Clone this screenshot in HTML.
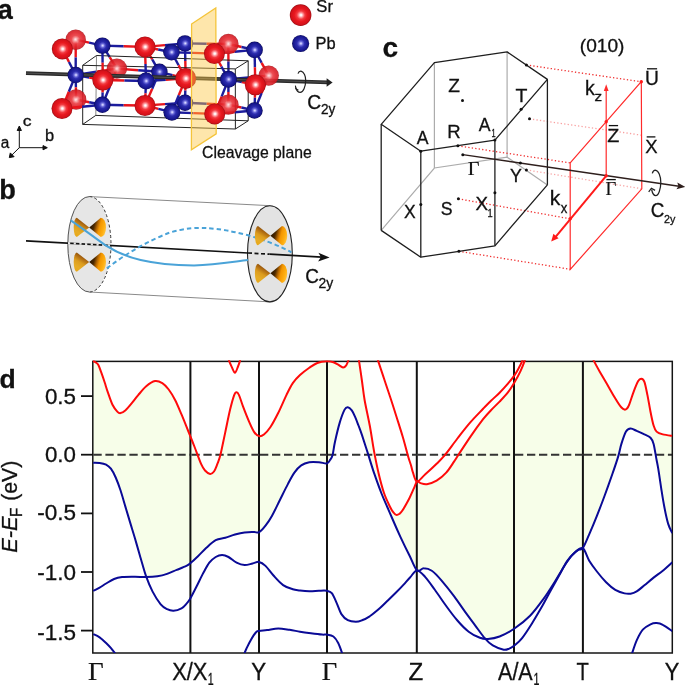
<!DOCTYPE html>
<html><head><meta charset="utf-8"><title>Figure</title>
<style>
html,body{margin:0;padding:0;background:#fff;width:685px;height:685px;overflow:hidden}
svg{display:block}
.sf{font-family:"Liberation Sans",Arial,sans-serif;fill:#111;stroke:#111;stroke-width:0.3px}
.ser{font-family:"Liberation Serif","Times New Roman",serif;fill:#111;stroke:#111;stroke-width:0.2px}
</style></head><body>
<svg width="685" height="685" viewBox="0 0 685 685">
<rect width="685" height="685" fill="#fff"/>
<defs>
<radialGradient id="gS" cx="0.5" cy="0.5" r="0.5" fx="0.52" fy="0.5">
<stop offset="0" stop-color="#ffffff"/><stop offset="0.08" stop-color="#fff0f0"/><stop offset="0.2" stop-color="#ff9ca0"/><stop offset="0.38" stop-color="#f23a40"/><stop offset="0.6" stop-color="#e8181f"/><stop offset="0.88" stop-color="#d4121a"/><stop offset="1" stop-color="#9c0c12"/></radialGradient>
<radialGradient id="gSf" cx="0.5" cy="0.5" r="0.5">
<stop offset="0" stop-color="#fff4f4"/><stop offset="0.1" stop-color="#fcd0d2"/><stop offset="0.24" stop-color="#f48488"/><stop offset="0.42" stop-color="#ea3a40"/><stop offset="0.7" stop-color="#e0222a"/><stop offset="0.9" stop-color="#d21c24"/><stop offset="1" stop-color="#a8141a"/></radialGradient>
<radialGradient id="gP" cx="0.5" cy="0.5" r="0.5" fx="0.52" fy="0.5">
<stop offset="0" stop-color="#eaeaff"/><stop offset="0.1" stop-color="#b4b4f8"/><stop offset="0.25" stop-color="#6464d4"/><stop offset="0.45" stop-color="#2c2cae"/><stop offset="0.7" stop-color="#1e1e9a"/><stop offset="0.9" stop-color="#141486"/><stop offset="1" stop-color="#08084c"/></radialGradient>
<radialGradient id="gPf" cx="0.5" cy="0.5" r="0.5">
<stop offset="0" stop-color="#a8a8f0"/><stop offset="0.15" stop-color="#6060d0"/><stop offset="0.45" stop-color="#3434b0"/><stop offset="1" stop-color="#22228a"/></radialGradient>
</defs>
<g stroke-width="2.4"><line x1="75.7" y1="39.7" x2="89.1" y2="42.7" stroke="#e8141c"/><line x1="89.1" y1="42.7" x2="102.4" y2="45.6" stroke="#1c1c9c"/><line x1="75.7" y1="39.7" x2="75.7" y2="57.4" stroke="#e8141c"/><line x1="75.7" y1="57.4" x2="75.7" y2="75.0" stroke="#1c1c9c"/><line x1="102.4" y1="45.6" x2="109.7" y2="57.1" stroke="#1c1c9c"/><line x1="109.7" y1="57.1" x2="116.9" y2="68.6" stroke="#e8141c"/><line x1="145.0" y1="46.9" x2="165.0" y2="45.1" stroke="#e8141c"/><line x1="165.0" y1="45.1" x2="185.0" y2="43.4" stroke="#1c1c9c"/><line x1="145.0" y1="46.9" x2="152.2" y2="59.3" stroke="#e8141c"/><line x1="152.2" y1="59.3" x2="159.4" y2="71.8" stroke="#1c1c9c"/><line x1="185.0" y1="43.4" x2="206.7" y2="43.7" stroke="#1c1c9c"/><line x1="206.7" y1="43.7" x2="228.4" y2="44.0" stroke="#e8141c"/><line x1="185.0" y1="43.4" x2="185.3" y2="60.9" stroke="#1c1c9c"/><line x1="185.3" y1="60.9" x2="185.7" y2="78.4" stroke="#e8141c"/><line x1="228.4" y1="44.0" x2="241.5" y2="47.0" stroke="#e8141c"/><line x1="241.5" y1="47.0" x2="254.6" y2="49.9" stroke="#1c1c9c"/><line x1="228.4" y1="44.0" x2="228.4" y2="61.6" stroke="#e8141c"/><line x1="228.4" y1="61.6" x2="228.5" y2="79.3" stroke="#1c1c9c"/><line x1="254.6" y1="49.9" x2="261.6" y2="62.8" stroke="#1c1c9c"/><line x1="261.6" y1="62.8" x2="268.7" y2="75.6" stroke="#e8141c"/><line x1="75.7" y1="75.0" x2="96.3" y2="71.8" stroke="#1c1c9c"/><line x1="96.3" y1="71.8" x2="116.9" y2="68.6" stroke="#e8141c"/><line x1="116.9" y1="68.6" x2="138.2" y2="70.2" stroke="#e8141c"/><line x1="138.2" y1="70.2" x2="159.4" y2="71.8" stroke="#1c1c9c"/><line x1="159.4" y1="71.8" x2="172.6" y2="75.1" stroke="#1c1c9c"/><line x1="172.6" y1="75.1" x2="185.7" y2="78.4" stroke="#e8141c"/><line x1="228.5" y1="79.3" x2="248.6" y2="77.4" stroke="#1c1c9c"/><line x1="248.6" y1="77.4" x2="268.7" y2="75.6" stroke="#e8141c"/><line x1="75.7" y1="75.0" x2="75.9" y2="87.2" stroke="#1c1c9c"/><line x1="75.9" y1="87.2" x2="76.1" y2="99.5" stroke="#e8141c"/><line x1="116.9" y1="68.6" x2="109.7" y2="86.7" stroke="#e8141c"/><line x1="109.7" y1="86.7" x2="102.4" y2="104.8" stroke="#1c1c9c"/><line x1="159.4" y1="71.8" x2="152.2" y2="88.7" stroke="#1c1c9c"/><line x1="152.2" y1="88.7" x2="145.0" y2="105.5" stroke="#e8141c"/><line x1="185.7" y1="78.4" x2="185.3" y2="90.6" stroke="#e8141c"/><line x1="185.3" y1="90.6" x2="185.0" y2="102.7" stroke="#1c1c9c"/><line x1="228.5" y1="79.3" x2="228.4" y2="91.9" stroke="#1c1c9c"/><line x1="228.4" y1="91.9" x2="228.4" y2="104.6" stroke="#e8141c"/><line x1="268.7" y1="75.6" x2="261.6" y2="93.0" stroke="#e8141c"/><line x1="261.6" y1="93.0" x2="254.5" y2="110.5" stroke="#1c1c9c"/><line x1="76.1" y1="99.5" x2="89.2" y2="102.2" stroke="#e8141c"/><line x1="89.2" y1="102.2" x2="102.4" y2="104.8" stroke="#1c1c9c"/><line x1="145.0" y1="105.5" x2="165.0" y2="104.1" stroke="#e8141c"/><line x1="165.0" y1="104.1" x2="185.0" y2="102.7" stroke="#1c1c9c"/><line x1="185.0" y1="102.7" x2="206.7" y2="103.7" stroke="#1c1c9c"/><line x1="206.7" y1="103.7" x2="228.4" y2="104.6" stroke="#e8141c"/><line x1="228.4" y1="104.6" x2="241.4" y2="107.5" stroke="#e8141c"/><line x1="241.4" y1="107.5" x2="254.5" y2="110.5" stroke="#1c1c9c"/></g>
<g fill="none" stroke="#222" stroke-width="1">
<line x1="96.5" y1="55.5" x2="95.8" y2="115.4" stroke="#8a8a8a"/>
<polyline points="82.7,65.3 96.5,55.5 248.2,60.8 235.3,68.9"/>
<polyline points="82.7,124.4 95.8,115.4 248.2,120.8"/>
<line x1="248.2" y1="60.8" x2="248.2" y2="120.8"/>
<polyline points="82.7,65.3 235.3,68.9 235.4,129 82.7,124.4 82.7,65.3"/>
<line x1="235.4" y1="129" x2="248.2" y2="120.8"/>
</g>
<circle cx="75.7" cy="39.7" r="10.2" fill="url(#gSf)" fill-opacity="0.9"/>
<circle cx="185.0" cy="43.4" r="8.2" fill="url(#gP)"/>
<circle cx="116.9" cy="68.6" r="10.2" fill="url(#gSf)" fill-opacity="0.9"/>
<circle cx="159.4" cy="71.8" r="8.2" fill="url(#gP)"/>
<circle cx="76.1" cy="99.5" r="10.2" fill="url(#gSf)" fill-opacity="0.9"/>
<circle cx="185.0" cy="102.7" r="8.2" fill="url(#gP)"/>
<g stroke-width="2.4"><line x1="62.3" y1="48.9" x2="69.0" y2="62.0" stroke="#e8141c"/><line x1="69.0" y1="62.0" x2="75.7" y2="75.0" stroke="#1c1c9c"/><line x1="102.4" y1="45.6" x2="123.7" y2="46.2" stroke="#1c1c9c"/><line x1="123.7" y1="46.2" x2="145.0" y2="46.9" stroke="#e8141c"/><line x1="102.4" y1="45.6" x2="102.6" y2="62.8" stroke="#1c1c9c"/><line x1="102.6" y1="62.8" x2="102.8" y2="80.0" stroke="#e8141c"/><line x1="145.0" y1="46.9" x2="158.2" y2="49.5" stroke="#e8141c"/><line x1="158.2" y1="49.5" x2="171.5" y2="52.2" stroke="#1c1c9c"/><line x1="145.0" y1="46.9" x2="145.5" y2="64.0" stroke="#e8141c"/><line x1="145.5" y1="64.0" x2="146.0" y2="81.0" stroke="#1c1c9c"/><line x1="171.5" y1="52.2" x2="192.9" y2="52.9" stroke="#1c1c9c"/><line x1="192.9" y1="52.9" x2="214.4" y2="53.6" stroke="#e8141c"/><line x1="171.5" y1="52.2" x2="178.6" y2="65.3" stroke="#1c1c9c"/><line x1="178.6" y1="65.3" x2="185.7" y2="78.4" stroke="#e8141c"/><line x1="214.4" y1="53.6" x2="234.5" y2="51.8" stroke="#e8141c"/><line x1="234.5" y1="51.8" x2="254.6" y2="49.9" stroke="#1c1c9c"/><line x1="214.4" y1="53.6" x2="221.4" y2="66.5" stroke="#e8141c"/><line x1="221.4" y1="66.5" x2="228.5" y2="79.3" stroke="#1c1c9c"/><line x1="254.6" y1="49.9" x2="254.9" y2="67.3" stroke="#1c1c9c"/><line x1="254.9" y1="67.3" x2="255.3" y2="84.8" stroke="#e8141c"/><line x1="75.7" y1="75.0" x2="89.2" y2="77.5" stroke="#1c1c9c"/><line x1="89.2" y1="77.5" x2="102.8" y2="80.0" stroke="#e8141c"/><line x1="102.8" y1="80.0" x2="124.4" y2="80.5" stroke="#e8141c"/><line x1="124.4" y1="80.5" x2="146.0" y2="81.0" stroke="#1c1c9c"/><line x1="146.0" y1="81.0" x2="165.8" y2="79.7" stroke="#1c1c9c"/><line x1="165.8" y1="79.7" x2="185.7" y2="78.4" stroke="#e8141c"/><line x1="185.7" y1="78.4" x2="207.1" y2="78.8" stroke="#e8141c"/><line x1="207.1" y1="78.8" x2="228.5" y2="79.3" stroke="#1c1c9c"/><line x1="228.5" y1="79.3" x2="241.9" y2="82.0" stroke="#1c1c9c"/><line x1="241.9" y1="82.0" x2="255.3" y2="84.8" stroke="#e8141c"/><line x1="75.7" y1="75.0" x2="68.8" y2="91.8" stroke="#1c1c9c"/><line x1="68.8" y1="91.8" x2="62.0" y2="108.5" stroke="#e8141c"/><line x1="102.8" y1="80.0" x2="102.6" y2="92.4" stroke="#e8141c"/><line x1="102.6" y1="92.4" x2="102.4" y2="104.8" stroke="#1c1c9c"/><line x1="146.0" y1="81.0" x2="145.5" y2="93.2" stroke="#1c1c9c"/><line x1="145.5" y1="93.2" x2="145.0" y2="105.5" stroke="#e8141c"/><line x1="185.7" y1="78.4" x2="178.8" y2="95.3" stroke="#e8141c"/><line x1="178.8" y1="95.3" x2="171.9" y2="112.2" stroke="#1c1c9c"/><line x1="228.5" y1="79.3" x2="221.6" y2="96.6" stroke="#1c1c9c"/><line x1="221.6" y1="96.6" x2="214.7" y2="113.9" stroke="#e8141c"/><line x1="255.3" y1="84.8" x2="254.9" y2="97.7" stroke="#e8141c"/><line x1="254.9" y1="97.7" x2="254.5" y2="110.5" stroke="#1c1c9c"/><line x1="62.0" y1="108.5" x2="82.2" y2="106.7" stroke="#e8141c"/><line x1="82.2" y1="106.7" x2="102.4" y2="104.8" stroke="#1c1c9c"/><line x1="102.4" y1="104.8" x2="123.7" y2="105.2" stroke="#1c1c9c"/><line x1="123.7" y1="105.2" x2="145.0" y2="105.5" stroke="#e8141c"/><line x1="145.0" y1="105.5" x2="158.4" y2="108.8" stroke="#e8141c"/><line x1="158.4" y1="108.8" x2="171.9" y2="112.2" stroke="#1c1c9c"/><line x1="171.9" y1="112.2" x2="193.3" y2="113.1" stroke="#1c1c9c"/><line x1="193.3" y1="113.1" x2="214.7" y2="113.9" stroke="#e8141c"/><line x1="214.7" y1="113.9" x2="234.6" y2="112.2" stroke="#e8141c"/><line x1="234.6" y1="112.2" x2="254.5" y2="110.5" stroke="#1c1c9c"/></g>
<line x1="26" y1="73.2" x2="328" y2="82.4" stroke="#2a2a2a" stroke-width="3.8"/>
<line x1="26" y1="73.1" x2="327" y2="82.3" stroke="#5c5c5c" stroke-width="0.8"/>
<path d="M326.6,78.3 L332.6,82.5 L326.6,86.7 Z" fill="#222"/>
<circle cx="62.3" cy="48.9" r="10.5" fill="url(#gS)"/>
<circle cx="102.4" cy="45.6" r="8.2" fill="url(#gP)"/>
<circle cx="145.0" cy="46.9" r="10.5" fill="url(#gS)"/>
<circle cx="171.5" cy="52.2" r="8.3" fill="url(#gP)"/>
<circle cx="75.7" cy="75.0" r="8.2" fill="url(#gP)"/>
<circle cx="102.8" cy="80.0" r="10.5" fill="url(#gS)"/>
<circle cx="146.0" cy="81.0" r="8.5" fill="url(#gP)"/>
<circle cx="185.7" cy="78.4" r="10.5" fill="url(#gS)"/>
<circle cx="62.0" cy="108.5" r="10.5" fill="url(#gS)"/>
<circle cx="102.4" cy="104.8" r="8.2" fill="url(#gP)"/>
<circle cx="145.0" cy="105.5" r="10.5" fill="url(#gS)"/>
<circle cx="171.9" cy="112.2" r="8.5" fill="url(#gP)"/>
<path d="M191.6,24 L215.8,7.9 L216.2,133.8 L191.4,149.7 Z" fill="#fcc845" fill-opacity="0.45" stroke="#f4c43a" stroke-width="1.3"/>
<circle cx="228.4" cy="44.0" r="10.2" fill="url(#gSf)" fill-opacity="0.9"/>
<circle cx="268.7" cy="75.6" r="10.2" fill="url(#gSf)" fill-opacity="0.9"/>
<circle cx="228.4" cy="104.6" r="10.2" fill="url(#gSf)" fill-opacity="0.9"/>
<circle cx="214.4" cy="53.6" r="10.5" fill="url(#gS)"/>
<circle cx="254.6" cy="49.9" r="8.3" fill="url(#gP)"/>
<circle cx="228.5" cy="79.3" r="8.5" fill="url(#gP)"/>
<circle cx="255.3" cy="84.8" r="10.5" fill="url(#gS)"/>
<circle cx="214.7" cy="113.9" r="10.5" fill="url(#gS)"/>
<circle cx="254.5" cy="110.5" r="8.2" fill="url(#gP)"/>
<path d="M298,73.6 C298.6,71.8 299.8,71.1 301,71.2 C304,71.8 305.8,76 305.7,80.5 C305.6,86.5 303.3,92.4 300.2,92.4 C298.3,92.4 296.5,90.5 295.6,87.5" fill="none" stroke="#222" stroke-width="1.2"/>
<path d="M295.4,85.6 L295.9,88.6 L298.4,90.2" fill="none" stroke="#222" stroke-width="1.1"/>
<circle cx="300.6" cy="15.1" r="10.8" fill="url(#gS)"/>
<circle cx="300.6" cy="43.5" r="8.6" fill="url(#gP)"/>
<g stroke="#111" stroke-width="1" fill="#111">
<line x1="19.3" y1="147.7" x2="19.3" y2="129.5"/><path d="M17.2,130.5 L19.3,126 L21.4,130.5 Z"/>
<line x1="19.3" y1="147.7" x2="44" y2="147.7"/><path d="M43,145.6 L47.3,147.7 L43,149.8 Z"/>
<line x1="19.3" y1="147.7" x2="11.5" y2="155.4"/><path d="M9.3,157.6 L10.3,152.9 L14.1,156.7 Z"/>
</g>
<defs>
<linearGradient id="cL" x1="0.75" y1="0" x2="0.25" y2="1">
<stop offset="0" stop-color="#4a2600"/><stop offset="0.3" stop-color="#a86410"/><stop offset="0.55" stop-color="#dc9c1e"/><stop offset="0.8" stop-color="#e6ac26"/><stop offset="1" stop-color="#e8a818"/></linearGradient>
<linearGradient id="cR" x1="0" y1="0.3" x2="1" y2="0.6">
<stop offset="0" stop-color="#1e1000"/><stop offset="0.3" stop-color="#4a2800"/><stop offset="0.48" stop-color="#b86800"/><stop offset="0.62" stop-color="#f39600"/><stop offset="0.85" stop-color="#ffae10"/><stop offset="1" stop-color="#ffc23a"/></linearGradient>
</defs>
<line x1="89.4" y1="196.6" x2="270.4" y2="205.7" stroke="#8a8a8a" stroke-width="1"/>
<line x1="89.4" y1="292" x2="270.5" y2="301.9" stroke="#8a8a8a" stroke-width="1"/>
<ellipse cx="89" cy="244.3" rx="21.6" ry="47.7" fill="#e6e6e6"/>
<path d="M89.4,196.6 A21.6,47.7 0 0 0 89.4,292" fill="none" stroke="#555" stroke-width="1"/>
<path d="M89.4,196.6 A21.6,47.7 0 0 1 89.4,292" fill="none" stroke="#333" stroke-width="1" stroke-dasharray="3 2.2"/>
<ellipse cx="269.9" cy="253.8" rx="22.4" ry="48.1" fill="#e3e3e3" stroke="#222" stroke-width="1.1"/>
<line x1="26" y1="240.9" x2="248" y2="253.0" stroke="#111" stroke-width="1.7"/>
<line x1="248" y1="253.0" x2="269.5" y2="254.2" stroke="#111" stroke-width="1.7" stroke-dasharray="4 2.5"/>
<line x1="269.5" y1="254.2" x2="322" y2="257.1" stroke="#111" stroke-width="1.7"/>
<path d="M318.4,252.7 L329.6,257.5 L318.1,261.4 L320.9,257.0 Z" fill="#111"/>
<path d="M89.2,227.4 L76.8,217.8 A3.1,9.6 0 0 0 76.8,237.0 Z" fill="url(#cL)"/><path d="M89.2,227.4 L100.8,217.8 A5.2,9.6 0 0 1 100.8,237.0 Z" fill="url(#cR)"/>
<path d="M89.2,262.1 L76.8,252.5 A3.1,9.6 0 0 0 76.8,271.7 Z" fill="url(#cL)"/><path d="M89.2,262.1 L100.8,252.5 A5.2,9.6 0 0 1 100.8,271.7 Z" fill="url(#cR)"/>
<line x1="68" y1="243.1" x2="110" y2="245.4" stroke="#e6e6e6" stroke-width="2" stroke-dasharray="2.2 3.5" stroke-dashoffset="0"/>
<path d="M70.7,220.3 C85,230 95,238 106,245.7 C125,258 150,265 194,265.4 C215,265 232,262 248,260.1" fill="none" stroke="#4aa3d8" stroke-width="2"/>
<path d="M106.9,268.4 C125,254 150,240 170,232.5 C185,228 198,227.5 207.3,228.1 C230,229.5 265,238 291.4,252.3" fill="none" stroke="#4aa3d8" stroke-width="2" stroke-dasharray="4.5 3"/>
<path d="M270.4,235.7 L258.0,226.1 A3.1,9.6 0 0 0 258.0,245.3 Z" fill="url(#cL)"/><path d="M270.4,235.7 L282.0,226.1 A5.2,9.6 0 0 1 282.0,245.3 Z" fill="url(#cR)"/>
<path d="M270.4,273.3 L258.0,263.7 A3.1,9.6 0 0 0 258.0,282.9 Z" fill="url(#cL)"/><path d="M270.4,273.3 L282.0,263.7 A5.2,9.6 0 0 1 282.0,282.9 Z" fill="url(#cR)"/>
<g stroke="#acacac" stroke-width="1.2" fill="none">
<line x1="434.4" y1="62.7" x2="434.4" y2="168.0"/>
<line x1="507.1" y1="51.9" x2="507.1" y2="157.2"/>
<polyline points="381.2,230.4 434.4,168.0 507.1,157.2 547.4,184.9"/>
</g>
<g stroke-width="1.3" fill="none" stroke-dasharray="1.3 2.2">
<line x1="526.4" y1="65" x2="641.3" y2="81.7" stroke="#f03030"/>
<line x1="529.5" y1="118.8" x2="641.5" y2="135.2" stroke="#f8a0a0"/>
<line x1="457.9" y1="145.8" x2="570.2" y2="162.9" stroke="#f03030"/>
<line x1="526.4" y1="169.9" x2="641.8" y2="188.8" stroke="#f8a8a8"/>
<line x1="458.4" y1="198.8" x2="570.2" y2="218.8" stroke="#f03030"/>
<line x1="458.9" y1="251.3" x2="570.4" y2="269.3" stroke="#f03030"/>
</g>
<g stroke="#1e1e1e" stroke-width="1.3" fill="none" stroke-linejoin="round">
<polygon points="381.2,124.3 434.4,62.7 507.1,51.9 547.4,79.4 494.9,140.1 420.8,151.2"/>
<line x1="381.2" y1="124.3" x2="381.2" y2="230.4"/>
<line x1="420.8" y1="151.2" x2="420.8" y2="257.2"/>
<line x1="494.9" y1="140.1" x2="494.9" y2="245.8"/>
<line x1="547.4" y1="79.4" x2="547.4" y2="184.9"/>
<polyline points="547.4,184.9 494.9,245.8 420.8,257.2 381.2,230.4"/>
</g>
<g stroke="#ff2a2a" stroke-width="1.2" fill="none">
<polygon points="570.2,162.9 641.3,81.7 641.8,188.8 570.2,269.5"/>
<line x1="606.2" y1="175.7" x2="606.2" y2="89"/>
</g>
<path d="M603.8,91 L606.2,84.2 L608.6,91 Z" fill="#ff2a2a"/>
<line x1="606.2" y1="175.9" x2="555" y2="237.6" stroke="#ff1a1a" stroke-width="2"/>
<path d="M551.2,241.4 L553.4,233.8 L558.6,238.2 Z" fill="#ff1a1a"/>
<line x1="462.8" y1="154.6" x2="679" y2="186.2" stroke="#2e1f1d" stroke-width="1.4"/>
<path d="M677.3,182.5 L685.2,186.9 L676.4,189.3 L678.4,186.2 Z" fill="#2e1f1d"/>
<path d="M652.3,173.4 C653,171 654.3,170.1 655.3,170.1 C658.5,170.5 660.8,176 660.8,182.5 C660.8,189 658.5,195.7 655.8,195.7 C654,195.7 652.6,194 651.6,189.5" fill="none" stroke="#222" stroke-width="1.25"/>
<path d="M648.7,191.8 L651.4,188.2 L655.1,190.4" fill="none" stroke="#222" stroke-width="1.25"/>
<circle cx="462.5" cy="100.4" r="1.5" fill="#111"/>
<circle cx="457.9" cy="145.8" r="1.5" fill="#111"/>
<circle cx="521.1" cy="109.3" r="1.5" fill="#111"/>
<circle cx="526.4" cy="65.0" r="1.5" fill="#111"/>
<circle cx="529.5" cy="118.8" r="1.5" fill="#111"/>
<circle cx="462.8" cy="154.7" r="1.5" fill="#111"/>
<circle cx="520.4" cy="162.9" r="1.5" fill="#111"/>
<circle cx="526.4" cy="169.9" r="1.5" fill="#111"/>
<circle cx="420.8" cy="204.4" r="1.5" fill="#111"/>
<circle cx="494.9" cy="192.7" r="1.5" fill="#111"/>
<circle cx="458.4" cy="198.8" r="1.5" fill="#111"/>
<circle cx="458.9" cy="251.3" r="1.5" fill="#111"/>
<circle cx="420.8" cy="151.2" r="1.5" fill="#111"/>
<circle cx="494.9" cy="140.1" r="1.5" fill="#111"/>
<circle cx="641.3" cy="81.7" r="1.7" fill="#ff1a1a"/>
<circle cx="606.2" cy="121.8" r="1.7" fill="#ff1a1a"/>
<circle cx="606.2" cy="175.8" r="1.7" fill="#ff1a1a"/>
<circle cx="570.2" cy="218.8" r="1.7" fill="#ff1a1a"/>
<defs><clipPath id="pc"><rect x="92.8" y="360.2" width="579.5" height="292.8"/></clipPath></defs>
<path d="M92.8,361.4 L93.3,361.4 L93.8,361.4 L94.3,361.6 L94.8,361.8 L95.3,362.1 L95.8,362.3 L96.3,362.6 L96.8,363.0 L97.3,363.5 L97.8,364.1 L98.3,365.0 L98.8,366.0 L99.3,367.2 L99.8,368.5 L100.3,369.8 L100.8,371.2 L101.3,372.6 L101.8,373.9 L102.3,375.4 L102.8,376.8 L103.3,378.3 L103.8,379.8 L104.3,381.3 L104.8,382.8 L105.3,384.4 L105.8,386.0 L106.3,387.6 L106.8,389.2 L107.3,390.7 L107.8,392.2 L108.3,393.6 L108.8,395.1 L109.3,396.5 L109.8,398.0 L110.3,399.4 L110.8,400.7 L111.3,402.0 L111.8,403.2 L112.3,404.4 L112.8,405.4 L113.3,406.3 L113.8,407.2 L114.3,407.9 L114.8,408.6 L115.3,409.3 L115.8,409.9 L116.3,410.5 L116.8,411.1 L117.3,411.6 L117.8,412.1 L118.3,412.5 L118.8,412.9 L119.3,413.1 L119.8,413.2 L120.3,413.1 L120.8,413.0 L121.3,412.9 L121.8,412.7 L122.3,412.5 L122.8,412.2 L123.3,411.9 L123.8,411.6 L124.3,411.2 L124.8,410.8 L125.3,410.4 L125.8,409.9 L126.3,409.5 L126.8,408.9 L127.3,408.4 L127.8,407.9 L128.3,407.3 L128.8,406.7 L129.3,406.2 L129.8,405.6 L130.3,405.0 L130.8,404.4 L131.3,403.8 L131.8,403.2 L132.3,402.6 L132.8,402.0 L133.3,401.3 L133.8,400.7 L134.3,400.0 L134.8,399.4 L135.3,398.7 L135.8,398.1 L136.3,397.4 L136.8,396.8 L137.3,396.2 L137.8,395.6 L138.3,395.0 L138.8,394.4 L139.3,393.8 L139.8,393.2 L140.3,392.6 L140.8,392.0 L141.3,391.4 L141.8,390.8 L142.3,390.2 L142.8,389.7 L143.3,389.1 L143.8,388.6 L144.3,388.1 L144.8,387.6 L145.3,387.1 L145.8,386.7 L146.3,386.2 L146.8,385.8 L147.3,385.4 L147.8,385.0 L148.3,384.6 L148.8,384.2 L149.3,383.9 L149.8,383.5 L150.3,383.2 L150.8,382.9 L151.3,382.6 L151.8,382.3 L152.3,382.0 L152.8,381.8 L153.3,381.5 L153.8,381.3 L154.3,381.2 L154.8,381.1 L155.3,381.0 L155.8,380.9 L156.3,380.9 L156.8,380.9 L157.3,381.0 L157.8,381.0 L158.3,381.2 L158.8,381.3 L159.3,381.5 L159.8,381.7 L160.3,382.0 L160.8,382.2 L161.3,382.5 L161.8,382.8 L162.3,383.1 L162.8,383.4 L163.3,383.8 L163.8,384.2 L164.3,384.6 L164.8,385.0 L165.3,385.5 L165.8,386.0 L166.3,386.6 L166.8,387.1 L167.3,387.7 L167.8,388.3 L168.3,389.0 L168.8,389.6 L169.3,390.3 L169.8,391.0 L170.3,391.7 L170.8,392.5 L171.3,393.3 L171.8,394.1 L172.3,394.9 L172.8,395.8 L173.3,396.7 L173.8,397.6 L174.3,398.5 L174.8,399.4 L175.3,400.4 L175.8,401.4 L176.3,402.4 L176.8,403.5 L177.3,404.6 L177.8,405.7 L178.3,406.9 L178.8,408.0 L179.3,409.2 L179.8,410.4 L180.3,411.6 L180.8,412.7 L181.3,413.9 L181.8,415.1 L182.3,416.3 L182.8,417.5 L183.3,418.8 L183.8,420.0 L184.3,421.2 L184.8,422.5 L185.3,423.7 L185.8,425.0 L186.3,426.2 L186.8,427.5 L187.3,428.8 L187.8,430.0 L188.3,431.2 L188.8,432.5 L189.3,433.7 L189.8,435.0 L190.3,436.2 L190.8,437.5 L191.3,438.7 L191.8,440.0 L192.3,441.2 L192.8,442.4 L193.3,443.7 L193.8,445.0 L194.3,446.2 L194.8,447.5 L195.3,448.9 L195.8,450.2 L196.3,451.5 L196.8,452.9 L197.3,454.2 L197.8,455.5 L198.3,456.9 L198.8,458.2 L199.3,459.5 L199.8,460.8 L200.3,462.0 L200.8,463.3 L201.3,464.4 L201.8,465.5 L202.3,466.6 L202.8,467.5 L203.3,468.4 L203.8,469.1 L204.3,469.7 L204.8,470.3 L205.3,470.8 L205.8,471.3 L206.3,471.8 L206.8,472.2 L207.3,472.6 L207.8,473.0 L208.3,473.3 L208.8,473.6 L209.3,473.8 L209.8,473.9 L210.3,474.0 L210.8,474.0 L211.3,473.9 L211.8,473.6 L212.3,473.3 L212.8,472.9 L213.3,472.4 L213.8,471.8 L214.3,471.1 L214.8,470.2 L215.3,469.2 L215.8,468.0 L216.3,466.8 L216.8,465.5 L217.3,464.2 L217.8,462.9 L218.3,461.7 L218.8,460.4 L219.3,458.9 L219.8,457.2 L220.3,455.4 L220.8,453.4 L221.3,451.2 L221.8,448.9 L222.3,446.5 L222.8,444.2 L223.3,441.7 L223.8,439.3 L224.3,436.9 L224.8,434.5 L225.3,432.1 L225.8,429.7 L226.3,427.3 L226.8,424.9 L227.3,422.5 L227.8,420.1 L228.3,417.7 L228.8,415.4 L229.3,413.1 L229.8,410.9 L230.3,408.8 L230.8,406.8 L231.3,404.8 L231.8,402.9 L232.3,401.1 L232.8,399.4 L233.3,397.8 L233.8,396.2 L234.3,394.8 L234.8,393.7 L235.3,392.8 L235.8,392.4 L236.3,392.3 L236.8,392.3 L237.3,392.5 L237.8,392.9 L238.3,393.7 L238.8,394.7 L239.3,395.8 L239.8,397.1 L240.3,398.6 L240.8,400.1 L241.3,401.6 L241.8,403.1 L242.3,404.5 L242.8,405.9 L243.3,407.2 L243.8,408.5 L244.3,409.8 L244.8,411.1 L245.3,412.3 L245.8,413.6 L246.3,414.9 L246.8,416.1 L247.3,417.4 L247.8,418.6 L248.3,419.8 L248.8,421.0 L249.3,422.2 L249.8,423.3 L250.3,424.5 L250.8,425.6 L251.3,426.7 L251.8,427.8 L252.3,428.8 L252.8,429.8 L253.3,430.7 L253.8,431.5 L254.3,432.2 L254.8,432.9 L255.3,433.5 L255.8,434.0 L256.3,434.5 L256.8,434.9 L257.3,435.3 L257.8,435.6 L258.3,435.8 L258.8,436.0 L259.3,436.1 L259.8,436.2 L260.3,436.2 L260.8,436.2 L261.3,436.0 L261.8,435.8 L262.3,435.6 L262.8,435.3 L263.3,434.9 L263.8,434.6 L264.3,434.2 L264.8,433.8 L265.3,433.3 L265.8,432.8 L266.3,432.3 L266.8,431.8 L267.3,431.3 L267.8,430.7 L268.3,430.1 L268.8,429.4 L269.3,428.7 L269.8,428.0 L270.3,427.3 L270.8,426.5 L271.3,425.7 L271.8,424.9 L272.3,424.1 L272.8,423.2 L273.3,422.3 L273.8,421.4 L274.3,420.5 L274.8,419.6 L275.3,418.6 L275.8,417.7 L276.3,416.7 L276.8,415.8 L277.3,414.8 L277.8,413.8 L278.3,412.8 L278.8,411.8 L279.3,410.7 L279.8,409.7 L280.3,408.6 L280.8,407.5 L281.3,406.4 L281.8,405.3 L282.3,404.1 L282.8,403.0 L283.3,401.9 L283.8,400.7 L284.3,399.6 L284.8,398.5 L285.3,397.4 L285.8,396.4 L286.3,395.3 L286.8,394.3 L287.3,393.3 L287.8,392.2 L288.3,391.2 L288.8,390.2 L289.3,389.2 L289.8,388.2 L290.3,387.3 L290.8,386.4 L291.3,385.5 L291.8,384.7 L292.3,383.9 L292.8,383.1 L293.3,382.4 L293.8,381.7 L294.3,381.1 L294.8,380.4 L295.3,379.8 L295.8,379.3 L296.3,378.7 L296.8,378.2 L297.3,377.7 L297.8,377.2 L298.3,376.7 L298.8,376.2 L299.3,375.8 L299.8,375.3 L300.3,374.8 L300.8,374.4 L301.3,373.9 L301.8,373.5 L302.3,373.1 L302.8,372.7 L303.3,372.3 L303.8,371.9 L304.3,371.5 L304.8,371.1 L305.3,370.7 L305.8,370.3 L306.3,370.0 L306.8,369.6 L307.3,369.2 L307.8,368.9 L308.3,368.5 L308.8,368.2 L309.3,367.8 L309.8,367.4 L310.3,367.1 L310.8,366.7 L311.3,366.4 L311.8,366.0 L312.3,365.7 L312.8,365.4 L313.3,365.0 L313.8,364.7 L314.3,364.4 L314.8,364.1 L315.3,363.9 L315.8,363.6 L316.3,363.4 L316.8,363.2 L317.3,363.0 L317.8,362.8 L318.3,362.7 L318.8,362.5 L319.3,362.4 L319.8,362.3 L320.3,362.2 L320.8,362.0 L321.3,361.9 L321.8,361.9 L322.3,361.8 L322.8,361.7 L323.3,361.6 L323.8,361.6 L324.3,361.5 L324.8,361.5 L325.3,361.4 L325.8,361.4 L326.3,361.4 L326.8,361.4 L327.3,361.4 L327.8,361.4 L328.3,361.4 L328.8,361.4 L329.3,361.4 L329.8,361.4 L330.3,361.5 L330.8,361.6 L331.3,361.7 L331.8,361.8 L332.3,361.9 L332.8,362.0 L333.3,362.2 L333.8,362.3 L334.3,362.5 L334.8,362.7 L335.3,363.0 L335.8,363.2 L336.3,363.5 L336.8,363.8 L337.3,364.1 L337.8,364.4 L338.3,364.7 L338.8,365.0 L339.3,365.3 L339.8,365.7 L340.3,366.0 L340.8,366.4 L341.3,366.7 L341.8,367.0 L342.3,367.3 L342.8,367.5 L343.3,367.5 L343.8,367.4 L344.3,367.2 L344.8,366.9 L345.3,366.5 L345.8,365.9 L346.3,365.3 L346.8,364.4 L347.3,363.3 L347.8,362.0 L348.3,361.4 L348.8,361.4 L349.3,361.4 L349.8,361.4 L350.3,361.4 L350.8,361.4 L351.3,361.4 L351.8,361.4 L352.3,361.4 L352.8,361.4 L353.3,361.4 L353.8,361.4 L354.3,361.4 L354.8,361.4 L355.3,361.4 L355.8,361.4 L356.3,361.4 L356.8,361.4 L357.3,361.4 L357.8,361.4 L358.3,361.4 L358.8,361.4 L359.3,362.8 L359.8,366.1 L360.3,369.5 L360.8,372.9 L361.3,376.3 L361.8,379.8 L362.3,383.5 L362.8,387.4 L363.3,391.4 L363.8,395.0 L364.3,398.2 L364.8,401.1 L365.3,403.8 L365.8,406.3 L366.3,408.7 L366.8,411.1 L367.3,413.5 L367.8,415.8 L368.3,418.2 L368.8,420.7 L369.3,423.2 L369.8,425.8 L370.3,428.5 L370.8,431.4 L371.3,434.4 L371.8,437.5 L372.3,440.7 L372.8,443.8 L373.3,446.9 L373.8,449.8 L374.3,452.6 L374.8,455.3 L375.3,457.9 L375.8,460.4 L376.3,462.9 L376.8,465.3 L377.3,467.6 L377.8,469.8 L378.3,472.0 L378.8,474.1 L379.3,476.2 L379.8,478.2 L380.3,480.2 L380.8,482.1 L381.3,484.0 L381.8,485.8 L382.3,487.6 L382.8,489.3 L383.3,490.9 L383.8,492.4 L384.3,493.8 L384.8,495.2 L385.3,496.5 L385.8,497.7 L386.3,498.9 L386.8,500.0 L387.3,501.1 L387.8,502.2 L388.3,503.3 L388.8,504.3 L389.3,505.3 L389.8,506.4 L390.3,507.4 L390.8,508.4 L391.3,509.4 L391.8,510.2 L392.3,511.0 L392.8,511.7 L393.3,512.3 L393.8,512.9 L394.3,513.5 L394.8,514.0 L395.3,514.4 L395.8,514.7 L396.3,514.9 L396.8,515.0 L397.3,514.9 L397.8,514.8 L398.3,514.6 L398.8,514.3 L399.3,513.9 L399.8,513.6 L400.3,513.2 L400.8,512.7 L401.3,512.1 L401.8,511.4 L402.3,510.7 L402.8,509.9 L403.3,509.1 L403.8,508.2 L404.3,507.4 L404.8,506.5 L405.3,505.7 L405.8,504.8 L406.3,503.9 L406.8,503.0 L407.3,502.1 L407.8,501.2 L408.3,500.3 L408.8,499.3 L409.3,498.4 L409.8,497.4 L410.3,496.4 L410.8,495.3 L411.3,494.3 L411.8,493.1 L412.3,492.0 L412.8,490.9 L413.3,489.7 L413.8,488.6 L414.3,487.4 L414.8,486.2 L415.3,484.8 L415.8,483.5 L416.3,482.4 L416.8,481.7 L417.3,481.5 L417.8,481.4 L418.3,481.6 L418.8,482.1 L419.3,482.5 L419.8,482.8 L420.3,483.0 L420.8,483.2 L421.3,483.3 L421.8,483.5 L422.3,483.7 L422.8,483.8 L423.3,484.0 L423.8,484.1 L424.3,484.2 L424.8,484.2 L425.3,484.3 L425.8,484.3 L426.3,484.3 L426.8,484.2 L427.3,484.1 L427.8,484.0 L428.3,483.9 L428.8,483.8 L429.3,483.7 L429.8,483.6 L430.3,483.4 L430.8,483.3 L431.3,483.1 L431.8,482.9 L432.3,482.7 L432.8,482.6 L433.3,482.3 L433.8,482.1 L434.3,481.9 L434.8,481.7 L435.3,481.4 L435.8,481.2 L436.3,480.9 L436.8,480.6 L437.3,480.3 L437.8,479.9 L438.3,479.6 L438.8,479.3 L439.3,478.9 L439.8,478.5 L440.3,478.2 L440.8,477.8 L441.3,477.4 L441.8,476.9 L442.3,476.5 L442.8,476.1 L443.3,475.6 L443.8,475.1 L444.3,474.7 L444.8,474.2 L445.3,473.7 L445.8,473.1 L446.3,472.6 L446.8,472.0 L447.3,471.4 L447.8,470.8 L448.3,470.1 L448.8,469.4 L449.3,468.8 L449.8,468.0 L450.3,467.3 L450.8,466.6 L451.3,465.8 L451.8,465.1 L452.3,464.3 L452.8,463.5 L453.3,462.8 L453.8,462.0 L454.3,461.3 L454.8,460.5 L455.3,459.8 L455.8,459.0 L456.3,458.1 L456.8,457.3 L457.3,456.5 L457.8,455.8 L458.3,455.0 L458.8,454.2 L459.3,453.5 L459.8,452.7 L460.3,451.9 L460.8,451.2 L461.3,450.4 L461.8,449.6 L462.3,448.9 L462.8,448.1 L463.3,447.4 L463.8,446.6 L464.3,445.8 L464.8,445.1 L465.3,444.3 L465.8,443.6 L466.3,442.8 L466.8,442.1 L467.3,441.3 L467.8,440.6 L468.3,439.8 L468.8,439.1 L469.3,438.4 L469.8,437.6 L470.3,436.9 L470.8,436.2 L471.3,435.5 L471.8,434.7 L472.3,434.0 L472.8,433.3 L473.3,432.6 L473.8,431.9 L474.3,431.2 L474.8,430.5 L475.3,429.8 L475.8,429.1 L476.3,428.4 L476.8,427.7 L477.3,427.0 L477.8,426.3 L478.3,425.6 L478.8,424.9 L479.3,424.3 L479.8,423.6 L480.3,422.9 L480.8,422.2 L481.3,421.6 L481.8,420.9 L482.3,420.2 L482.8,419.6 L483.3,418.9 L483.8,418.3 L484.3,417.7 L484.8,417.1 L485.3,416.5 L485.8,415.9 L486.3,415.3 L486.8,414.7 L487.3,414.1 L487.8,413.6 L488.3,413.1 L488.8,412.5 L489.3,412.0 L489.8,411.5 L490.3,410.9 L490.8,410.4 L491.3,409.9 L491.8,409.4 L492.3,408.8 L492.8,408.3 L493.3,407.8 L493.8,407.3 L494.3,406.9 L494.8,406.4 L495.3,405.9 L495.8,405.4 L496.3,404.9 L496.8,404.4 L497.3,403.9 L497.8,403.4 L498.3,402.9 L498.8,402.4 L499.3,401.9 L499.8,401.4 L500.3,400.9 L500.8,400.3 L501.3,399.8 L501.8,399.3 L502.3,398.8 L502.8,398.3 L503.3,397.7 L503.8,397.2 L504.3,396.7 L504.8,396.1 L505.3,395.6 L505.8,395.0 L506.3,394.4 L506.8,393.8 L507.3,393.2 L507.8,392.6 L508.3,391.9 L508.8,391.3 L509.3,390.6 L509.8,389.9 L510.3,389.1 L510.8,388.4 L511.3,387.6 L511.8,386.9 L512.3,386.1 L512.8,385.3 L513.3,384.4 L513.8,383.6 L514.3,382.8 L514.8,381.9 L515.3,381.0 L515.8,380.1 L516.3,379.2 L516.8,378.3 L517.3,377.4 L517.8,376.4 L518.3,375.5 L518.8,374.5 L519.3,373.5 L519.8,372.5 L520.3,371.5 L520.8,370.5 L521.3,369.4 L521.8,368.2 L522.3,367.0 L522.8,365.8 L523.3,364.5 L523.8,363.2 L524.3,361.9 L524.8,361.4 L525.3,361.4 L525.8,361.4 L526.3,361.4 L526.8,361.4 L527.3,361.4 L527.8,361.4 L528.3,361.4 L528.8,361.4 L529.3,361.4 L529.8,361.4 L530.3,361.4 L530.8,361.4 L531.3,361.4 L531.8,361.4 L532.3,361.4 L532.8,361.4 L533.3,361.4 L533.8,361.4 L534.3,361.4 L534.8,361.4 L535.3,361.4 L535.8,361.4 L536.3,361.4 L536.8,361.4 L537.3,361.4 L537.8,361.4 L538.3,361.4 L538.8,361.4 L539.3,361.4 L539.8,361.4 L540.3,361.4 L540.8,361.4 L541.3,361.4 L541.8,361.4 L542.3,361.4 L542.8,361.4 L543.3,361.4 L543.8,361.4 L544.3,361.4 L544.8,361.4 L545.3,361.4 L545.8,361.4 L546.3,361.4 L546.8,361.4 L547.3,361.4 L547.8,361.4 L548.3,361.4 L548.8,361.4 L549.3,361.4 L549.8,361.4 L550.3,361.4 L550.8,361.4 L551.3,361.4 L551.8,361.4 L552.3,361.4 L552.8,361.4 L553.3,361.4 L553.8,361.4 L554.3,361.4 L554.8,361.4 L555.3,361.4 L555.8,361.4 L556.3,361.4 L556.8,361.4 L557.3,361.4 L557.8,361.4 L558.3,361.4 L558.8,361.4 L559.3,361.4 L559.8,361.4 L560.3,361.4 L560.8,361.4 L561.3,361.4 L561.8,361.4 L562.3,361.4 L562.8,361.4 L563.3,361.4 L563.8,361.4 L564.3,361.4 L564.8,361.4 L565.3,361.4 L565.8,361.4 L566.3,361.4 L566.8,361.4 L567.3,361.4 L567.8,361.4 L568.3,361.4 L568.8,361.4 L569.3,361.4 L569.8,361.4 L570.3,361.4 L570.8,361.4 L571.3,361.4 L571.8,361.4 L572.3,361.4 L572.8,361.4 L573.3,361.4 L573.8,361.4 L574.3,361.4 L574.8,361.4 L575.3,361.4 L575.8,361.4 L576.3,361.4 L576.8,361.4 L577.3,361.4 L577.8,361.4 L578.3,361.4 L578.8,361.4 L579.3,361.4 L579.8,361.4 L580.3,361.4 L580.8,361.4 L581.3,361.4 L581.8,361.4 L582.3,361.4 L582.8,361.4 L583.3,361.4 L583.8,361.4 L584.3,361.4 L584.8,361.4 L585.3,361.4 L585.8,361.4 L586.3,361.4 L586.8,361.4 L587.3,361.4 L587.8,361.4 L588.3,361.4 L588.8,361.4 L589.3,361.4 L589.8,361.4 L590.3,361.4 L590.8,361.4 L591.3,361.4 L591.8,361.4 L592.3,361.4 L592.8,361.4 L593.3,361.4 L593.8,361.4 L594.3,361.8 L594.8,362.7 L595.3,363.6 L595.8,364.5 L596.3,365.4 L596.8,366.3 L597.3,367.3 L597.8,368.2 L598.3,369.1 L598.8,369.9 L599.3,370.8 L599.8,371.7 L600.3,372.6 L600.8,373.5 L601.3,374.3 L601.8,375.2 L602.3,376.1 L602.8,376.9 L603.3,377.8 L603.8,378.6 L604.3,379.5 L604.8,380.4 L605.3,381.2 L605.8,382.1 L606.3,382.9 L606.8,383.8 L607.3,384.7 L607.8,385.6 L608.3,386.5 L608.8,387.4 L609.3,388.2 L609.8,389.1 L610.3,390.0 L610.8,390.9 L611.3,391.8 L611.8,392.6 L612.3,393.5 L612.8,394.3 L613.3,395.2 L613.8,396.0 L614.3,396.8 L614.8,397.7 L615.3,398.5 L615.8,399.3 L616.3,400.1 L616.8,400.9 L617.3,401.7 L617.8,402.5 L618.3,403.3 L618.8,404.1 L619.3,404.8 L619.8,405.5 L620.3,406.2 L620.8,406.8 L621.3,407.3 L621.8,407.8 L622.3,408.3 L622.8,408.7 L623.3,409.1 L623.8,409.4 L624.3,409.6 L624.8,409.6 L625.3,409.6 L625.8,409.4 L626.3,409.1 L626.8,408.7 L627.3,408.2 L627.8,407.6 L628.3,406.7 L628.8,405.6 L629.3,404.3 L629.8,403.0 L630.3,401.5 L630.8,400.0 L631.3,398.5 L631.8,397.0 L632.3,395.5 L632.8,394.0 L633.3,392.6 L633.8,391.3 L634.3,390.0 L634.8,388.7 L635.3,387.5 L635.8,386.2 L636.3,385.0 L636.8,383.9 L637.3,382.8 L637.8,381.8 L638.3,380.9 L638.8,380.2 L639.3,379.6 L639.8,379.1 L640.3,378.9 L640.8,378.8 L641.3,378.8 L641.8,378.9 L642.3,379.0 L642.8,379.3 L643.3,379.8 L643.8,380.5 L644.3,381.6 L644.8,383.0 L645.3,384.9 L645.8,387.0 L646.3,389.4 L646.8,391.9 L647.3,394.4 L647.8,396.9 L648.3,399.6 L648.8,402.4 L649.3,405.3 L649.8,408.0 L650.3,410.7 L650.8,413.2 L651.3,415.7 L651.8,418.1 L652.3,420.4 L652.8,422.5 L653.3,424.5 L653.8,426.1 L654.3,427.7 L654.8,429.0 L655.3,430.0 L655.8,430.7 L656.3,431.3 L656.8,431.8 L657.3,432.2 L657.8,432.5 L658.3,432.8 L658.8,433.1 L659.3,433.3 L659.8,433.5 L660.3,433.7 L660.8,433.8 L661.3,434.0 L661.8,434.1 L662.3,434.3 L662.8,434.4 L663.3,434.5 L663.8,434.6 L664.3,434.7 L664.8,434.8 L665.3,434.9 L665.8,435.0 L666.3,435.1 L666.8,435.1 L667.3,435.2 L667.8,435.3 L668.3,435.3 L668.8,435.4 L669.3,435.4 L669.8,435.5 L670.3,435.6 L670.8,435.6 L671.3,435.7 L671.8,435.7 L672.3,435.8 L672.3,533.2 L671.8,532.2 L671.3,531.2 L670.8,530.2 L670.3,529.2 L669.8,528.1 L669.3,526.9 L668.8,525.7 L668.3,524.2 L667.8,522.6 L667.3,520.7 L666.8,518.7 L666.3,516.5 L665.8,514.2 L665.3,511.7 L664.8,509.2 L664.3,506.7 L663.8,504.1 L663.3,501.2 L662.8,498.3 L662.3,495.2 L661.8,492.1 L661.3,488.9 L660.8,485.7 L660.3,482.4 L659.8,479.0 L659.3,475.6 L658.8,472.3 L658.3,469.0 L657.8,466.0 L657.3,463.5 L656.8,461.0 L656.3,458.3 L655.8,455.4 L655.3,452.4 L654.8,449.6 L654.3,447.0 L653.8,444.7 L653.3,442.9 L652.8,441.3 L652.3,440.2 L651.8,439.3 L651.3,438.7 L650.8,438.1 L650.3,437.6 L649.8,437.2 L649.3,436.8 L648.8,436.5 L648.3,436.2 L647.8,436.0 L647.3,435.7 L646.8,435.5 L646.3,435.3 L645.8,435.1 L645.3,434.8 L644.8,434.6 L644.3,434.4 L643.8,434.1 L643.3,433.9 L642.8,433.6 L642.3,433.4 L641.8,433.2 L641.3,432.9 L640.8,432.7 L640.3,432.5 L639.8,432.2 L639.3,432.0 L638.8,431.8 L638.3,431.6 L637.8,431.4 L637.3,431.2 L636.8,430.9 L636.3,430.7 L635.8,430.5 L635.3,430.3 L634.8,430.0 L634.3,429.8 L633.8,429.5 L633.3,429.3 L632.8,429.1 L632.3,428.9 L631.8,428.7 L631.3,428.6 L630.8,428.6 L630.3,428.6 L629.8,428.7 L629.3,428.8 L628.8,428.9 L628.3,429.1 L627.8,429.5 L627.3,429.9 L626.8,430.4 L626.3,431.1 L625.8,432.0 L625.3,432.9 L624.8,434.1 L624.3,435.3 L623.8,436.6 L623.3,438.1 L622.8,439.5 L622.3,441.1 L621.8,442.6 L621.3,444.2 L620.8,446.0 L620.3,448.0 L619.8,450.3 L619.3,452.4 L618.8,454.3 L618.3,456.1 L617.8,457.7 L617.3,459.3 L616.8,460.9 L616.3,462.4 L615.8,463.9 L615.3,465.4 L614.8,466.9 L614.3,468.4 L613.8,469.9 L613.3,471.3 L612.8,472.8 L612.3,474.2 L611.8,475.7 L611.3,477.1 L610.8,478.5 L610.3,479.9 L609.8,481.3 L609.3,482.8 L608.8,484.2 L608.3,485.6 L607.8,486.9 L607.3,488.3 L606.8,489.7 L606.3,491.1 L605.8,492.5 L605.3,493.8 L604.8,495.2 L604.3,496.5 L603.8,497.9 L603.3,499.2 L602.8,500.6 L602.3,501.9 L601.8,503.2 L601.3,504.6 L600.8,505.9 L600.3,507.2 L599.8,508.5 L599.3,509.8 L598.8,511.1 L598.3,512.4 L597.8,513.6 L597.3,514.9 L596.8,516.1 L596.3,517.4 L595.8,518.6 L595.3,519.9 L594.8,521.1 L594.3,522.3 L593.8,523.5 L593.3,524.7 L592.8,525.9 L592.3,527.1 L591.8,528.3 L591.3,529.4 L590.8,530.6 L590.3,531.8 L589.8,532.9 L589.3,534.1 L588.8,535.2 L588.3,536.4 L587.8,537.6 L587.3,538.8 L586.8,540.0 L586.3,541.1 L585.8,542.3 L585.3,543.4 L584.8,544.5 L584.3,545.6 L583.8,546.5 L583.3,547.4 L582.8,548.2 L582.3,548.0 L581.8,547.9 L581.3,547.9 L580.8,548.0 L580.3,548.1 L579.8,548.4 L579.3,548.7 L578.8,549.0 L578.3,549.4 L577.8,549.8 L577.3,550.3 L576.8,550.7 L576.3,551.2 L575.8,551.6 L575.3,552.0 L574.8,552.4 L574.3,552.9 L573.8,553.3 L573.3,553.8 L572.8,554.3 L572.3,554.8 L571.8,555.3 L571.3,555.8 L570.8,556.4 L570.3,556.9 L569.8,557.5 L569.3,558.1 L568.8,558.8 L568.3,559.4 L567.8,560.1 L567.3,560.8 L566.8,561.6 L566.3,562.3 L565.8,563.1 L565.3,564.0 L564.8,564.8 L564.3,565.7 L563.8,566.7 L563.3,567.6 L562.8,568.4 L562.3,569.2 L561.8,570.1 L561.3,570.9 L560.8,571.7 L560.3,572.6 L559.8,573.4 L559.3,574.3 L558.8,575.1 L558.3,576.0 L557.8,576.8 L557.3,577.6 L556.8,578.5 L556.3,579.3 L555.8,580.1 L555.3,580.9 L554.8,581.7 L554.3,582.5 L553.8,583.3 L553.3,584.1 L552.8,584.9 L552.3,585.7 L551.8,586.5 L551.3,587.3 L550.8,588.0 L550.3,588.8 L549.8,589.6 L549.3,590.4 L548.8,591.1 L548.3,591.9 L547.8,592.7 L547.3,593.4 L546.8,594.2 L546.3,594.9 L545.8,595.6 L545.3,596.4 L544.8,597.1 L544.3,597.8 L543.8,598.5 L543.3,599.2 L542.8,599.9 L542.3,600.6 L541.8,601.2 L541.3,601.9 L540.8,602.6 L540.3,603.3 L539.8,604.0 L539.3,604.7 L538.8,605.3 L538.3,606.0 L537.8,606.7 L537.3,607.3 L536.8,608.0 L536.3,608.6 L535.8,609.2 L535.3,609.8 L534.8,610.5 L534.3,611.1 L533.8,611.6 L533.3,612.2 L532.8,612.8 L532.3,613.4 L531.8,613.9 L531.3,614.5 L530.8,615.0 L530.3,615.5 L529.8,616.0 L529.3,616.5 L528.8,617.0 L528.3,617.5 L527.8,617.9 L527.3,618.4 L526.8,618.8 L526.3,619.3 L525.8,619.7 L525.3,620.2 L524.8,620.6 L524.3,621.0 L523.8,621.5 L523.3,621.9 L522.8,622.3 L522.3,622.7 L521.8,623.1 L521.3,623.5 L520.8,623.9 L520.3,624.3 L519.8,624.7 L519.3,625.0 L518.8,625.4 L518.3,625.8 L517.8,626.2 L517.3,626.5 L516.8,626.9 L516.3,627.3 L515.8,627.6 L515.3,628.0 L514.8,628.3 L514.3,628.7 L513.8,629.0 L513.3,629.3 L512.8,629.7 L512.3,630.0 L511.8,630.3 L511.3,630.6 L510.8,630.9 L510.3,631.2 L509.8,631.5 L509.3,631.8 L508.8,632.1 L508.3,632.4 L507.8,632.7 L507.3,632.9 L506.8,633.2 L506.3,633.5 L505.8,633.7 L505.3,634.0 L504.8,634.2 L504.3,634.5 L503.8,634.7 L503.3,634.9 L502.8,635.2 L502.3,635.4 L501.8,635.6 L501.3,635.8 L500.8,636.0 L500.3,636.2 L499.8,636.4 L499.3,636.6 L498.8,636.8 L498.3,637.0 L497.8,637.1 L497.3,637.3 L496.8,637.4 L496.3,637.6 L495.8,637.7 L495.3,637.8 L494.8,638.0 L494.3,638.1 L493.8,638.2 L493.3,638.3 L492.8,638.4 L492.3,638.4 L491.8,638.5 L491.3,638.6 L490.8,638.6 L490.3,638.7 L489.8,638.8 L489.3,638.8 L488.8,638.8 L488.3,638.9 L487.8,638.9 L487.3,638.9 L486.8,639.0 L486.3,639.0 L485.8,639.0 L485.3,638.8 L484.8,638.2 L484.3,637.6 L483.8,637.0 L483.3,636.4 L482.8,635.8 L482.3,635.2 L481.8,634.5 L481.3,633.8 L480.8,633.2 L480.3,632.5 L479.8,631.8 L479.3,631.1 L478.8,630.4 L478.3,629.7 L477.8,629.0 L477.3,628.3 L476.8,627.6 L476.3,626.9 L475.8,626.2 L475.3,625.6 L474.8,624.9 L474.3,624.2 L473.8,623.6 L473.3,622.9 L472.8,622.2 L472.3,621.6 L471.8,620.9 L471.3,620.2 L470.8,619.6 L470.3,618.9 L469.8,618.2 L469.3,617.6 L468.8,616.9 L468.3,616.2 L467.8,615.5 L467.3,614.9 L466.8,614.2 L466.3,613.5 L465.8,612.8 L465.3,612.1 L464.8,611.4 L464.3,610.7 L463.8,610.0 L463.3,609.3 L462.8,608.6 L462.3,607.9 L461.8,607.1 L461.3,606.4 L460.8,605.7 L460.3,605.0 L459.8,604.2 L459.3,603.5 L458.8,602.8 L458.3,602.1 L457.8,601.4 L457.3,600.7 L456.8,600.0 L456.3,599.3 L455.8,598.6 L455.3,597.9 L454.8,597.2 L454.3,596.5 L453.8,595.9 L453.3,595.2 L452.8,594.5 L452.3,593.9 L451.8,593.2 L451.3,592.6 L450.8,591.9 L450.3,591.3 L449.8,590.6 L449.3,590.0 L448.8,589.4 L448.3,588.7 L447.8,588.1 L447.3,587.5 L446.8,586.8 L446.3,586.2 L445.8,585.6 L445.3,585.0 L444.8,584.3 L444.3,583.7 L443.8,583.1 L443.3,582.5 L442.8,581.9 L442.3,581.3 L441.8,580.8 L441.3,580.2 L440.8,579.6 L440.3,579.0 L439.8,578.5 L439.3,577.9 L438.8,577.3 L438.3,576.8 L437.8,576.2 L437.3,575.7 L436.8,575.2 L436.3,574.6 L435.8,574.1 L435.3,573.6 L434.8,573.2 L434.3,572.7 L433.8,572.3 L433.3,571.8 L432.8,571.4 L432.3,571.1 L431.8,570.7 L431.3,570.4 L430.8,570.1 L430.3,569.8 L429.8,569.6 L429.3,569.3 L428.8,569.2 L428.3,569.0 L427.8,568.8 L427.3,568.7 L426.8,568.6 L426.3,568.5 L425.8,568.4 L425.3,568.4 L424.8,568.3 L424.3,568.3 L423.8,568.3 L423.3,568.3 L422.8,568.5 L422.3,568.7 L421.8,569.0 L421.3,569.4 L420.8,569.7 L420.3,570.1 L419.8,570.5 L419.3,570.7 L418.8,570.9 L418.3,570.7 L417.8,570.5 L417.3,570.4 L416.8,570.2 L416.3,569.6 L415.8,568.9 L415.3,568.1 L414.8,567.2 L414.3,566.2 L413.8,565.2 L413.3,564.1 L412.8,562.9 L412.3,561.8 L411.8,560.6 L411.3,559.5 L410.8,558.4 L410.3,557.3 L409.8,556.2 L409.3,555.2 L408.8,554.2 L408.3,553.2 L407.8,552.1 L407.3,551.1 L406.8,550.1 L406.3,549.1 L405.8,548.1 L405.3,547.0 L404.8,546.0 L404.3,545.0 L403.8,544.0 L403.3,542.9 L402.8,541.9 L402.3,540.8 L401.8,539.8 L401.3,538.7 L400.8,537.7 L400.3,536.6 L399.8,535.5 L399.3,534.4 L398.8,533.3 L398.3,532.2 L397.8,531.1 L397.3,530.0 L396.8,528.8 L396.3,527.7 L395.8,526.6 L395.3,525.4 L394.8,524.3 L394.3,523.2 L393.8,522.0 L393.3,520.9 L392.8,519.7 L392.3,518.6 L391.8,517.4 L391.3,516.3 L390.8,515.2 L390.3,514.0 L389.8,512.8 L389.3,511.7 L388.8,510.5 L388.3,509.4 L387.8,508.2 L387.3,507.0 L386.8,505.9 L386.3,504.8 L385.8,503.6 L385.3,502.5 L384.8,501.4 L384.3,500.2 L383.8,499.1 L383.3,497.9 L382.8,496.7 L382.3,495.5 L381.8,494.3 L381.3,493.0 L380.8,491.7 L380.3,490.4 L379.8,489.1 L379.3,487.7 L378.8,486.4 L378.3,485.0 L377.8,483.7 L377.3,482.3 L376.8,480.9 L376.3,479.5 L375.8,478.0 L375.3,476.6 L374.8,475.2 L374.3,473.7 L373.8,472.2 L373.3,470.7 L372.8,469.1 L372.3,467.6 L371.8,466.0 L371.3,464.4 L370.8,462.8 L370.3,461.1 L369.8,459.5 L369.3,457.9 L368.8,456.3 L368.3,454.7 L367.8,453.1 L367.3,451.6 L366.8,450.0 L366.3,448.4 L365.8,446.9 L365.3,445.3 L364.8,443.7 L364.3,442.2 L363.8,440.6 L363.3,439.1 L362.8,437.5 L362.3,436.0 L361.8,434.5 L361.3,433.0 L360.8,431.6 L360.3,430.2 L359.8,428.9 L359.3,427.6 L358.8,426.3 L358.3,425.0 L357.8,423.7 L357.3,422.4 L356.8,421.1 L356.3,419.8 L355.8,418.6 L355.3,417.4 L354.8,416.2 L354.3,415.1 L353.8,414.0 L353.3,412.9 L352.8,412.0 L352.3,411.1 L351.8,410.4 L351.3,409.8 L350.8,409.2 L350.3,408.7 L349.8,408.3 L349.3,407.9 L348.8,407.6 L348.3,407.3 L347.8,407.2 L347.3,407.2 L346.8,407.2 L346.3,407.4 L345.8,407.8 L345.3,408.4 L344.8,409.2 L344.3,410.2 L343.8,411.3 L343.3,412.4 L342.8,413.7 L342.3,414.9 L341.8,416.3 L341.3,417.7 L340.8,419.2 L340.3,420.8 L339.8,422.4 L339.3,424.1 L338.8,426.0 L338.3,427.8 L337.8,429.8 L337.3,431.8 L336.8,433.9 L336.3,436.0 L335.8,438.2 L335.3,440.4 L334.8,442.6 L334.3,445.3 L333.8,448.3 L333.3,451.5 L332.8,454.2 L332.3,456.0 L331.8,457.3 L331.3,458.2 L330.8,458.9 L330.3,459.5 L329.8,460.3 L329.3,461.2 L328.8,462.0 L328.3,462.6 L327.8,463.0 L327.3,463.3 L326.8,463.4 L326.3,463.5 L325.8,463.5 L325.3,463.4 L324.8,463.3 L324.3,463.2 L323.8,463.1 L323.3,463.0 L322.8,462.9 L322.3,462.8 L321.8,462.7 L321.3,462.6 L320.8,462.5 L320.3,462.4 L319.8,462.3 L319.3,462.2 L318.8,462.2 L318.3,462.2 L317.8,462.1 L317.3,462.1 L316.8,462.1 L316.3,462.0 L315.8,462.0 L315.3,462.0 L314.8,461.9 L314.3,461.9 L313.8,461.9 L313.3,461.9 L312.8,461.9 L312.3,461.9 L311.8,461.9 L311.3,462.0 L310.8,462.0 L310.3,462.1 L309.8,462.1 L309.3,462.2 L308.8,462.3 L308.3,462.4 L307.8,462.5 L307.3,462.6 L306.8,462.8 L306.3,462.9 L305.8,463.1 L305.3,463.3 L304.8,463.5 L304.3,463.7 L303.8,463.9 L303.3,464.1 L302.8,464.4 L302.3,464.7 L301.8,465.0 L301.3,465.3 L300.8,465.7 L300.3,466.1 L299.8,466.5 L299.3,466.9 L298.8,467.4 L298.3,467.9 L297.8,468.4 L297.3,469.0 L296.8,469.6 L296.3,470.2 L295.8,470.8 L295.3,471.5 L294.8,472.1 L294.3,472.8 L293.8,473.6 L293.3,474.3 L292.8,475.1 L292.3,476.0 L291.8,476.8 L291.3,477.7 L290.8,478.6 L290.3,479.6 L289.8,480.5 L289.3,481.4 L288.8,482.4 L288.3,483.3 L287.8,484.3 L287.3,485.2 L286.8,486.2 L286.3,487.2 L285.8,488.2 L285.3,489.2 L284.8,490.1 L284.3,491.1 L283.8,492.2 L283.3,493.2 L282.8,494.2 L282.3,495.2 L281.8,496.2 L281.3,497.2 L280.8,498.2 L280.3,499.2 L279.8,500.2 L279.3,501.2 L278.8,502.2 L278.3,503.2 L277.8,504.3 L277.3,505.3 L276.8,506.3 L276.3,507.4 L275.8,508.4 L275.3,509.4 L274.8,510.4 L274.3,511.4 L273.8,512.4 L273.3,513.4 L272.8,514.3 L272.3,515.3 L271.8,516.2 L271.3,517.1 L270.8,517.9 L270.3,518.8 L269.8,519.6 L269.3,520.4 L268.8,521.1 L268.3,521.9 L267.8,522.6 L267.3,523.3 L266.8,524.0 L266.3,524.7 L265.8,525.3 L265.3,525.9 L264.8,526.6 L264.3,527.2 L263.8,527.8 L263.3,528.3 L262.8,528.9 L262.3,529.4 L261.8,529.9 L261.3,530.4 L260.8,530.8 L260.3,531.3 L259.8,531.6 L259.3,532.0 L258.8,532.3 L258.3,532.4 L257.8,532.5 L257.3,532.5 L256.8,532.5 L256.3,532.4 L255.8,532.2 L255.3,532.2 L254.8,532.1 L254.3,532.1 L253.8,532.1 L253.3,532.1 L252.8,532.1 L252.3,532.1 L251.8,532.1 L251.3,532.1 L250.8,532.1 L250.3,532.1 L249.8,532.1 L249.3,532.1 L248.8,532.1 L248.3,532.1 L247.8,532.2 L247.3,532.2 L246.8,532.2 L246.3,532.2 L245.8,532.3 L245.3,532.3 L244.8,532.4 L244.3,532.4 L243.8,532.5 L243.3,532.6 L242.8,532.7 L242.3,532.8 L241.8,532.8 L241.3,532.9 L240.8,533.1 L240.3,533.2 L239.8,533.3 L239.3,533.4 L238.8,533.5 L238.3,533.6 L237.8,533.8 L237.3,533.9 L236.8,534.0 L236.3,534.1 L235.8,534.3 L235.3,534.4 L234.8,534.6 L234.3,534.7 L233.8,534.9 L233.3,535.0 L232.8,535.2 L232.3,535.3 L231.8,535.5 L231.3,535.7 L230.8,535.9 L230.3,536.0 L229.8,536.2 L229.3,536.4 L228.8,536.6 L228.3,536.7 L227.8,536.9 L227.3,537.1 L226.8,537.2 L226.3,537.4 L225.8,537.5 L225.3,537.7 L224.8,537.8 L224.3,538.0 L223.8,538.1 L223.3,538.2 L222.8,538.2 L222.3,538.3 L221.8,538.4 L221.3,538.5 L220.8,538.6 L220.3,538.6 L219.8,538.7 L219.3,538.8 L218.8,538.9 L218.3,539.1 L217.8,539.2 L217.3,539.4 L216.8,539.6 L216.3,539.8 L215.8,540.1 L215.3,540.3 L214.8,540.6 L214.3,541.0 L213.8,541.3 L213.3,541.7 L212.8,542.1 L212.3,542.5 L211.8,542.9 L211.3,543.3 L210.8,543.7 L210.3,544.2 L209.8,544.7 L209.3,545.1 L208.8,545.6 L208.3,546.1 L207.8,546.5 L207.3,547.0 L206.8,547.5 L206.3,547.9 L205.8,548.4 L205.3,548.8 L204.8,549.3 L204.3,549.8 L203.8,550.3 L203.3,550.8 L202.8,551.3 L202.3,551.8 L201.8,552.3 L201.3,552.9 L200.8,553.4 L200.3,553.9 L199.8,554.4 L199.3,554.9 L198.8,555.4 L198.3,555.9 L197.8,556.4 L197.3,556.9 L196.8,557.3 L196.3,557.8 L195.8,558.3 L195.3,558.7 L194.8,559.2 L194.3,559.7 L193.8,560.1 L193.3,560.6 L192.8,561.0 L192.3,561.5 L191.8,561.9 L191.3,562.4 L190.8,562.8 L190.3,563.2 L189.8,563.7 L189.3,564.1 L188.8,564.5 L188.3,564.9 L187.8,565.2 L187.3,565.5 L186.8,565.7 L186.3,565.9 L185.8,566.2 L185.3,566.4 L184.8,566.6 L184.3,566.8 L183.8,567.0 L183.3,567.2 L182.8,567.4 L182.3,567.6 L181.8,567.8 L181.3,568.0 L180.8,568.2 L180.3,568.4 L179.8,568.6 L179.3,568.8 L178.8,569.0 L178.3,569.2 L177.8,569.5 L177.3,569.7 L176.8,569.9 L176.3,570.1 L175.8,570.3 L175.3,570.5 L174.8,570.7 L174.3,570.9 L173.8,571.2 L173.3,571.4 L172.8,571.6 L172.3,571.8 L171.8,572.0 L171.3,572.3 L170.8,572.5 L170.3,572.7 L169.8,572.9 L169.3,573.1 L168.8,573.3 L168.3,573.5 L167.8,573.7 L167.3,573.8 L166.8,574.0 L166.3,574.2 L165.8,574.3 L165.3,574.5 L164.8,574.6 L164.3,574.8 L163.8,574.9 L163.3,575.1 L162.8,575.2 L162.3,575.3 L161.8,575.4 L161.3,575.6 L160.8,575.7 L160.3,575.8 L159.8,575.9 L159.3,576.0 L158.8,576.1 L158.3,576.2 L157.8,576.2 L157.3,576.3 L156.8,576.4 L156.3,576.5 L155.8,576.5 L155.3,576.6 L154.8,576.6 L154.3,576.7 L153.8,576.7 L153.3,576.8 L152.8,576.8 L152.3,576.8 L151.8,576.9 L151.3,576.9 L150.8,576.9 L150.3,577.0 L149.8,577.0 L149.3,577.0 L148.8,577.0 L148.3,577.0 L147.8,577.1 L147.3,577.1 L146.8,577.1 L146.3,576.9 L145.8,575.5 L145.3,574.0 L144.8,572.5 L144.3,570.8 L143.8,569.1 L143.3,567.3 L142.8,565.6 L142.3,563.8 L141.8,562.2 L141.3,560.4 L140.8,558.7 L140.3,556.9 L139.8,555.2 L139.3,553.5 L138.8,551.7 L138.3,549.9 L137.8,548.2 L137.3,546.4 L136.8,544.7 L136.3,543.0 L135.8,541.2 L135.3,539.5 L134.8,537.8 L134.3,536.2 L133.8,534.5 L133.3,532.9 L132.8,531.2 L132.3,529.6 L131.8,528.0 L131.3,526.3 L130.8,524.7 L130.3,523.1 L129.8,521.4 L129.3,519.7 L128.8,518.1 L128.3,516.4 L127.8,514.8 L127.3,513.1 L126.8,511.4 L126.3,509.7 L125.8,508.1 L125.3,506.4 L124.8,504.7 L124.3,503.0 L123.8,501.3 L123.3,499.5 L122.8,497.8 L122.3,496.1 L121.8,494.4 L121.3,492.8 L120.8,491.2 L120.3,489.7 L119.8,488.2 L119.3,486.8 L118.8,485.4 L118.3,484.0 L117.8,482.6 L117.3,481.3 L116.8,480.1 L116.3,478.9 L115.8,477.7 L115.3,476.6 L114.8,475.5 L114.3,474.5 L113.8,473.5 L113.3,472.6 L112.8,471.7 L112.3,470.8 L111.8,470.0 L111.3,469.3 L110.8,468.6 L110.3,467.9 L109.8,467.4 L109.3,466.8 L108.8,466.4 L108.3,466.0 L107.8,465.6 L107.3,465.3 L106.8,465.0 L106.3,464.7 L105.8,464.5 L105.3,464.2 L104.8,464.1 L104.3,463.9 L103.8,463.8 L103.3,463.6 L102.8,463.5 L102.3,463.4 L101.8,463.3 L101.3,463.3 L100.8,463.2 L100.3,463.1 L99.8,463.0 L99.3,463.0 L98.8,462.9 L98.3,462.9 L97.8,462.8 L97.3,462.8 L96.8,462.8 L96.3,462.8 L95.8,462.7 L95.3,462.7 L94.8,462.7 L94.3,462.7 L93.8,462.7 L93.3,462.7 L92.8,653.0 Z" fill="#f7fee9" stroke="none"/>
<line x1="190.4" y1="361.4" x2="190.4" y2="653.0" stroke="#111" stroke-width="2"/>
<line x1="259.0" y1="361.4" x2="259.0" y2="653.0" stroke="#111" stroke-width="2"/>
<line x1="327.0" y1="361.4" x2="327.0" y2="653.0" stroke="#111" stroke-width="2"/>
<line x1="416.8" y1="361.4" x2="416.8" y2="653.0" stroke="#111" stroke-width="2"/>
<line x1="514.0" y1="361.4" x2="514.0" y2="653.0" stroke="#111" stroke-width="2"/>
<line x1="582.9" y1="361.4" x2="582.9" y2="653.0" stroke="#111" stroke-width="2"/>
<line x1="93.4" y1="454.7" x2="190.4" y2="454.7" stroke="#333" stroke-width="2" stroke-dasharray="8.3 3.7"/>
<line x1="191.4" y1="454.7" x2="259.0" y2="454.7" stroke="#333" stroke-width="2" stroke-dasharray="8.3 3.7"/>
<line x1="260.0" y1="454.7" x2="327.0" y2="454.7" stroke="#333" stroke-width="2" stroke-dasharray="8.3 3.7"/>
<line x1="328.0" y1="454.7" x2="416.8" y2="454.7" stroke="#333" stroke-width="2" stroke-dasharray="8.3 3.7"/>
<line x1="417.8" y1="454.7" x2="514.0" y2="454.7" stroke="#333" stroke-width="2" stroke-dasharray="8.3 3.7"/>
<line x1="515.0" y1="454.7" x2="582.9" y2="454.7" stroke="#333" stroke-width="2" stroke-dasharray="8.3 3.7"/>
<line x1="583.9" y1="454.7" x2="672.3" y2="454.7" stroke="#333" stroke-width="2" stroke-dasharray="8.3 3.7"/>
<rect x="92.8" y="361.4" width="579.5" height="291.6" fill="none" stroke="#141414" stroke-width="1.5"/>
<g clip-path="url(#pc)" fill="none" stroke-width="2" stroke-linejoin="round">
<path d="M93.2,462.7 C94.3,462.8 97.4,462.7 99.6,463.0 C101.8,463.3 104.2,463.7 106.1,464.6 C108.0,465.6 109.3,466.6 110.9,468.7 C112.5,470.8 114.1,473.9 115.7,477.5 C117.3,481.1 118.9,485.5 120.5,490.3 C122.1,495.1 123.7,501.0 125.3,506.4 C126.9,511.8 128.5,517.0 130.1,522.4 C131.7,527.8 133.4,533.0 135.0,538.5 C136.6,544.0 138.6,551.0 139.8,555.2 C141.0,559.4 141.1,559.9 142.2,563.5 C143.3,567.1 144.5,571.9 146.2,576.6 C147.9,581.3 150.2,587.0 152.6,591.6 C155.0,596.2 158.3,601.5 160.7,604.4 C163.1,607.3 165.0,608.1 167.1,609.2 C169.2,610.3 171.1,610.9 173.5,610.8 C175.9,610.7 179.3,609.6 181.5,608.4 C183.7,607.2 185.0,605.4 186.4,603.8 C187.8,602.2 188.3,601.8 190.0,599.0 C191.7,596.2 194.3,591.0 196.4,586.8 C198.5,582.6 200.7,577.9 202.8,573.9 C205.0,569.9 207.2,565.5 209.3,562.7 C211.5,559.9 213.6,558.3 215.7,557.0 C217.8,555.7 220.0,555.0 222.1,555.0 C224.2,555.0 226.1,555.7 228.5,557.0 C230.9,558.3 233.9,561.4 236.6,562.7 C239.3,564.1 241.9,565.0 244.6,565.1 C247.3,565.2 250.2,564.0 252.6,563.5 C255.0,563.0 257.0,561.5 259.1,561.9 C261.2,562.3 263.1,563.6 265.5,565.9 C267.9,568.2 270.6,572.3 273.5,575.5 C276.4,578.7 279.9,582.8 283.1,585.1 C286.3,587.4 290.0,588.3 292.8,589.2 C295.6,590.1 297.2,590.0 300.0,590.4 C302.8,590.8 306.2,591.2 309.3,591.3 C312.4,591.4 316.0,590.9 318.9,590.8 C321.8,590.7 324.8,590.4 326.9,590.8 C329.0,591.2 330.2,591.2 331.8,593.2 C333.4,595.2 335.0,599.3 336.6,602.8 C338.2,606.3 339.5,611.2 341.4,614.1 C343.3,617.0 345.4,618.9 347.8,620.2 C350.2,621.5 353.4,621.8 355.8,621.8 C358.2,621.8 359.7,621.2 362.0,620.3 C364.3,619.4 366.7,618.3 369.7,616.3 C372.7,614.2 376.9,610.7 380.0,608.0 C383.1,605.3 385.4,602.8 388.1,600.2 C390.8,597.6 393.4,595.0 396.0,592.5 C398.6,590.0 401.1,587.4 403.4,584.9 C405.7,582.4 407.7,579.9 410.0,577.5 C412.3,575.1 414.4,570.5 417.0,570.4 C419.6,570.3 422.3,573.8 425.3,577.1 C428.3,580.4 431.5,585.2 435.0,590.0 C438.5,594.8 442.5,600.9 446.2,606.0 C449.9,611.1 453.6,616.2 457.4,620.5 C461.1,624.8 464.9,628.8 468.7,631.7 C472.4,634.6 476.7,636.6 479.9,637.8 C483.1,639.0 484.7,639.1 488.0,638.9 C491.3,638.7 495.2,638.2 499.6,636.5 C504.0,634.8 509.0,632.3 514.1,628.8 C519.2,625.3 525.3,620.6 530.1,615.7 C534.9,610.8 539.0,605.1 543.0,599.6 C547.0,594.1 550.7,588.2 554.2,582.7 C557.7,577.2 561.0,571.2 563.9,566.7 C566.8,562.2 569.5,558.2 571.9,555.4 C574.3,552.6 576.5,551.0 578.3,549.8 C580.1,548.6 581.0,550.8 582.8,548.2 C584.6,545.6 586.9,539.7 589.2,534.3 C591.6,528.9 594.4,522.3 596.9,515.9 C599.4,509.5 602.0,502.9 604.5,496.0 C607.0,489.1 609.9,481.1 612.2,474.5 C614.5,467.9 616.8,461.2 618.3,456.1 C619.8,451.0 620.1,448.0 621.4,443.9 C622.7,439.8 624.5,434.2 626.0,431.6 C627.5,429.1 628.8,428.7 630.6,428.6 C632.4,428.5 634.4,429.9 636.7,430.9 C639.0,431.9 642.1,433.2 644.4,434.4 C646.7,435.5 649.0,436.2 650.5,437.8 C652.0,439.4 652.6,440.2 653.6,443.9 C654.6,447.6 655.8,455.9 656.6,460.0 C657.4,464.1 657.4,463.7 658.2,468.4 C659.0,473.1 660.2,481.9 661.2,488.3 C662.2,494.7 663.1,500.8 664.3,506.7 C665.4,512.6 666.8,519.2 668.1,523.6 C669.4,528.0 671.6,531.6 672.3,533.2" stroke="#0a0a96"/>
<path d="M93.2,590.8 C94.3,590.3 97.4,588.8 99.6,587.6 C101.8,586.4 103.7,584.9 106.1,583.5 C108.5,582.1 111.4,580.1 114.1,579.0 C116.8,577.9 118.6,577.5 122.1,577.1 C125.6,576.7 131.0,576.8 135.0,576.8 C139.0,576.8 142.5,577.2 146.2,577.1 C149.9,577.0 153.9,576.8 157.4,576.3 C160.9,575.8 163.9,575.0 167.1,573.9 C170.3,572.8 173.5,571.2 176.7,569.9 C179.9,568.6 184.2,567.0 186.4,565.9 C188.6,564.8 188.1,565.1 190.0,563.5 C191.9,561.9 195.3,558.8 198.0,556.2 C200.7,553.6 203.2,550.8 206.1,548.1 C209.0,545.4 212.5,541.8 215.7,540.1 C218.9,538.4 222.1,538.6 225.3,537.7 C228.5,536.8 231.8,535.4 235.0,534.5 C238.2,533.6 241.4,532.8 244.6,532.4 C247.8,532.0 251.8,532.1 254.2,532.1 C256.6,532.1 257.2,533.2 259.1,532.1 C261.0,531.0 263.4,528.4 265.5,525.7 C267.6,523.0 269.5,520.3 271.9,516.0 C274.3,511.7 277.2,505.4 279.9,500.0 C282.6,494.6 285.6,488.4 288.0,483.9 C290.4,479.3 292.2,475.8 294.4,472.7 C296.6,469.6 298.7,467.1 301.2,465.4 C303.7,463.6 306.4,462.7 309.3,462.2 C312.2,461.7 316.0,462.0 318.9,462.2 C321.8,462.4 325.0,463.8 326.9,463.4 C328.8,463.0 329.2,461.2 330.1,459.8 C331.1,458.4 331.8,458.0 332.6,455.0 C333.4,452.0 333.8,447.1 335.0,441.7 C336.2,436.3 338.2,427.8 339.8,422.4 C341.4,417.0 343.3,412.1 344.6,409.6 C345.9,407.1 346.6,407.1 347.8,407.2 C349.0,407.3 350.6,408.8 351.8,410.4 C353.0,412.0 353.9,414.2 355.0,416.7 C356.1,419.2 357.3,422.4 358.5,425.5 C359.7,428.6 360.4,430.3 362.0,435.1 C363.6,439.9 366.1,448.0 368.2,454.4 C370.2,460.8 372.1,467.3 374.3,473.7 C376.5,480.1 379.1,487.4 381.3,493.0 C383.5,498.6 385.6,503.1 387.5,507.5 C389.4,511.9 390.6,514.6 392.7,519.5 C394.8,524.4 397.6,530.8 400.4,536.8 C403.2,542.8 406.8,550.2 409.6,555.8 C412.4,561.4 414.6,568.3 417.0,570.4 C419.4,572.5 421.2,568.2 423.7,568.3 C426.2,568.3 428.9,568.7 431.8,570.7 C434.8,572.7 437.7,576.0 441.4,580.3 C445.1,584.6 450.2,591.0 454.2,596.4 C458.2,601.8 462.0,607.6 465.5,612.4 C469.0,617.2 471.9,621.0 475.1,625.3 C478.3,629.6 481.8,634.8 484.7,638.1 C487.6,641.5 489.6,643.5 492.8,645.4 C496.0,647.3 500.9,649.2 503.7,649.7 C506.4,650.2 507.6,649.2 509.3,648.6 C511.0,648.0 512.0,647.5 514.1,645.8 C516.2,644.0 519.2,641.8 522.1,638.1 C525.0,634.4 528.6,628.8 531.8,623.7 C535.0,618.6 538.2,613.2 541.4,607.6 C544.6,602.0 548.0,595.4 551.0,590.0 C554.0,584.6 556.4,580.3 559.1,575.5 C561.8,570.7 564.4,565.0 567.1,561.1 C569.8,557.2 572.5,554.4 575.1,552.2 C577.7,550.1 580.4,546.8 582.8,548.2 C585.1,549.6 586.9,556.8 589.2,560.7 C591.6,564.6 594.1,567.9 596.9,571.5 C599.7,575.1 603.0,579.1 606.1,582.2 C609.2,585.3 612.2,588.0 615.3,589.9 C618.4,591.8 622.0,592.8 624.5,593.4 C627.0,594.0 628.6,594.0 630.6,593.7 C632.6,593.4 634.4,592.8 636.7,591.4 C639.0,590.0 641.6,587.6 644.4,585.3 C647.2,583.0 650.5,580.0 653.6,577.6 C656.7,575.2 659.7,573.2 662.8,570.7 C665.9,568.2 670.7,563.7 672.3,562.3" stroke="#0a0a96"/>
<path d="M93.2,634.1 C94.3,634.6 97.4,635.8 99.6,637.3 C101.8,638.8 104.2,641.2 106.1,643.0 C108.0,644.8 109.3,646.2 111.0,648.2 C112.7,650.2 115.6,653.9 116.5,655.0" stroke="#0a0a96"/>
<path d="M243.8,655.0 C244.2,653.9 245.3,651.0 246.5,648.5 C247.7,646.0 249.4,642.4 251.0,639.7 C252.6,637.0 254.5,634.0 255.8,632.5 C257.2,631.0 257.2,631.3 259.1,630.9 C261.0,630.5 263.9,630.5 267.1,630.1 C270.3,629.7 274.6,628.5 278.3,628.5 C282.1,628.5 286.0,629.3 289.6,629.8 C293.2,630.3 296.4,631.1 300.0,631.7 C303.6,632.3 307.2,632.8 310.9,633.3 C314.6,633.8 319.4,634.4 322.1,634.6 C324.8,634.8 325.0,634.3 326.9,634.6 C328.8,634.9 331.5,635.1 333.4,636.5 C335.3,637.9 336.6,639.9 338.2,643.0 C339.8,646.1 342.0,653.0 342.8,655.0" stroke="#0a0a96"/>
<path d="M631.5,655.0 C632.4,652.6 634.8,644.6 636.7,640.4 C638.6,636.2 640.5,632.4 642.8,629.7 C645.1,627.0 648.2,625.4 650.5,624.3 C652.8,623.2 654.6,623.0 656.6,623.1 C658.6,623.2 660.2,623.4 662.8,624.8 C665.4,626.1 670.7,630.1 672.3,631.2" stroke="#0a0a96"/>
<path d="M92.6,361.2 C93.0,361.3 94.1,361.3 95.0,361.9 C95.9,362.5 97.0,362.7 98.1,364.6 C99.2,366.5 100.5,370.4 101.6,373.4 C102.7,376.4 103.8,379.7 104.8,382.8 C105.8,385.9 106.4,388.2 107.7,391.9 C109.0,395.6 110.9,401.5 112.5,404.8 C114.1,408.1 116.0,410.2 117.3,411.6 C118.6,413.0 119.2,413.3 120.5,413.1 C121.8,412.9 123.4,412.0 125.3,410.4 C127.2,408.8 129.7,405.8 131.8,403.2 C134.0,400.6 135.8,397.9 138.2,395.1 C140.6,392.3 143.4,388.7 146.2,386.3 C149.0,383.9 152.3,381.5 155.0,381.0 C157.7,380.5 160.0,381.7 162.3,383.1 C164.6,384.5 166.6,386.7 168.7,389.5 C170.8,392.3 173.0,395.9 175.1,400.0 C177.2,404.1 179.3,409.3 181.5,414.4 C183.7,419.5 186.5,426.8 188.0,430.5 C189.5,434.2 189.3,433.8 190.4,436.5 C191.5,439.2 192.6,441.9 194.4,446.5 C196.2,451.1 199.4,460.2 201.2,464.2 C203.0,468.2 203.5,468.9 205.0,470.5 C206.5,472.1 208.6,473.8 210.1,474.0 C211.6,474.2 212.8,473.1 214.0,471.5 C215.2,469.9 216.2,467.0 217.3,464.2 C218.4,461.4 219.2,460.0 220.5,454.6 C221.8,449.2 223.7,439.6 225.3,432.1 C226.9,424.6 228.6,415.8 230.1,409.6 C231.6,403.4 233.1,398.0 234.2,395.1 C235.3,392.2 235.8,392.3 236.6,392.3 C237.4,392.3 237.9,392.8 239.0,395.1 C240.1,397.5 241.3,401.8 243.0,406.4 C244.7,410.9 247.5,418.1 249.4,422.4 C251.3,426.7 252.6,429.8 254.2,432.1 C255.8,434.4 257.5,435.7 259.1,436.1 C260.7,436.5 262.0,436.0 263.9,434.5 C265.8,433.0 267.9,430.9 270.3,427.3 C272.7,423.7 275.6,418.2 278.3,412.8 C281.0,407.4 284.0,400.1 286.4,395.1 C288.8,390.2 290.5,386.4 292.8,383.1 C295.1,379.8 297.2,377.7 300.0,375.1 C302.8,372.6 306.4,369.8 309.3,367.8 C312.2,365.8 314.4,364.1 317.3,363.0 C320.2,361.9 324.2,361.4 326.9,361.3 C329.6,361.2 331.5,361.6 333.4,362.2 C335.3,362.8 336.6,363.7 338.2,364.6 C339.8,365.5 341.7,367.4 343.0,367.5 C344.3,367.6 345.3,366.6 346.2,365.4 C347.1,364.1 347.9,361.6 348.5,360.0 C349.1,358.4 349.3,356.7 349.5,356.0" stroke="#ff0a0a"/>
<path d="M227.5,355.0 C227.8,356.1 228.6,359.3 229.3,361.4 C230.1,363.5 231.1,365.6 232.0,367.5 C232.9,369.4 234.0,372.9 235.0,372.7 C236.0,372.5 237.2,368.4 238.0,366.5 C238.8,364.6 239.3,363.1 239.8,361.4 C240.3,359.6 240.8,356.9 241.0,356.0" stroke="#ff0a0a"/>
<path d="M358.6,358.0 C358.7,358.6 358.6,357.6 359.1,361.4 C359.7,365.1 361.0,374.1 361.9,380.5 C362.8,386.9 363.3,392.4 364.6,400.0 C365.9,407.6 368.3,417.5 369.9,426.3 C371.5,435.1 372.8,444.7 374.3,452.6 C375.8,460.5 377.1,467.0 378.7,473.7 C380.3,480.4 382.1,487.4 384.0,493.0 C385.9,498.6 388.6,503.8 390.1,507.0 C391.6,510.2 392.2,510.9 393.2,512.2 C394.2,513.5 395.2,514.6 396.2,514.9 C397.2,515.2 398.2,514.7 399.2,514.0 C400.2,513.3 400.7,513.1 402.4,510.5 C404.1,507.9 407.4,502.0 409.4,498.2 C411.3,494.4 412.8,490.7 414.1,487.9 C415.4,485.1 415.9,482.3 417.0,481.5 C418.1,480.7 418.9,482.7 420.5,483.1 C422.1,483.6 424.2,484.6 426.9,484.2 C429.6,483.8 433.4,482.6 436.6,480.7 C439.8,478.8 443.3,475.9 446.2,472.7 C449.1,469.5 452.2,464.3 454.2,461.4 C456.2,458.4 455.6,459.1 458.3,455.0 C461.0,450.9 466.2,442.9 470.3,436.9 C474.4,430.9 479.7,423.6 483.1,419.2 C486.6,414.8 488.2,413.1 491.0,410.2 C493.8,407.3 496.8,404.5 499.6,401.6 C502.4,398.7 505.3,395.8 507.7,392.7 C510.1,389.6 512.0,386.7 514.1,383.1 C516.2,379.5 518.8,374.7 520.5,371.1 C522.2,367.5 523.7,363.6 524.5,361.4 C525.3,359.2 525.3,358.6 525.5,358.0" stroke="#ff0a0a"/>
<path d="M377.8,359.0 C377.9,359.4 377.3,358.1 378.3,361.4 C379.3,364.6 382.1,372.6 384.0,378.5 C385.9,384.4 387.9,390.2 390.0,396.5 C392.1,402.8 394.3,409.8 396.4,416.5 C398.5,423.2 400.9,430.6 402.8,437.0 C404.7,443.4 406.4,450.3 407.7,455.0 C409.0,459.7 410.0,462.1 410.9,465.0 C411.8,467.9 412.0,469.9 413.0,472.7 C414.0,475.4 414.9,481.2 417.0,481.5 C419.1,481.8 422.0,477.2 425.3,474.3 C428.6,471.4 433.4,467.0 436.6,463.8 C439.8,460.6 441.1,459.6 444.6,455.4 C448.1,451.2 453.1,444.0 457.4,438.5 C461.7,433.0 466.0,427.3 470.3,422.4 C474.6,417.4 479.7,412.4 483.1,408.8 C486.6,405.2 488.2,403.5 491.0,400.8 C493.8,398.1 496.8,395.5 499.6,392.7 C502.4,389.9 505.3,386.7 507.7,383.9 C510.1,381.1 512.2,378.6 514.1,375.9 C516.0,373.2 517.6,370.2 518.9,367.8 C520.2,365.4 521.4,363.0 522.1,361.4 C522.8,359.8 523.0,358.6 523.2,358.0" stroke="#ff0a0a"/>
<path d="M593.0,359.0 C593.2,359.4 593.0,359.2 594.1,361.4 C595.2,363.5 597.9,368.4 599.9,371.9 C601.9,375.4 604.0,379.0 606.1,382.6 C608.2,386.2 610.2,389.9 612.2,393.3 C614.2,396.8 616.8,400.9 618.3,403.3 C619.8,405.7 620.5,406.4 621.5,407.5 C622.5,408.6 623.6,409.4 624.5,409.6 C625.4,409.8 626.2,409.3 627.0,408.5 C627.8,407.7 628.1,407.4 629.2,404.6 C630.3,401.8 632.1,395.7 633.6,391.8 C635.1,387.9 636.9,383.3 638.2,381.1 C639.5,378.9 640.3,378.7 641.3,378.8 C642.3,378.9 643.4,379.1 644.4,381.8 C645.4,384.5 646.4,389.9 647.4,394.9 C648.4,399.9 649.5,406.6 650.5,411.7 C651.5,416.8 652.6,422.2 653.6,425.5 C654.6,428.8 655.1,430.1 656.6,431.6 C658.1,433.1 660.2,433.7 662.8,434.4 C665.4,435.1 670.7,435.6 672.3,435.8" stroke="#ff0a0a"/>
</g>
<line x1="81" y1="396.1" x2="92.8" y2="396.1" stroke="#111" stroke-width="1.8"/>
<line x1="81" y1="454.7" x2="92.8" y2="454.7" stroke="#111" stroke-width="1.8"/>
<line x1="81" y1="513.4" x2="92.8" y2="513.4" stroke="#111" stroke-width="1.8"/>
<line x1="81" y1="572.0" x2="92.8" y2="572.0" stroke="#111" stroke-width="1.8"/>
<line x1="81" y1="630.6" x2="92.8" y2="630.6" stroke="#111" stroke-width="1.8"/>
<text x="-2.29" y="18.8" font-size="27" font-weight="bold" class="sf">a</text>
<text x="-0.89" y="198.70" font-size="26.80" textLength="16.61" lengthAdjust="spacingAndGlyphs" class="sf" font-weight="bold">b</text>
<text x="382.40" y="56.50" font-size="28.00" textLength="15.62" lengthAdjust="spacingAndGlyphs" class="sf" font-weight="bold">c</text>
<text x="-0.44" y="387.5" font-size="26.5" font-weight="bold" class="sf">d</text>
<text x="316.34" y="12.00" font-size="16.90" textLength="16.63" lengthAdjust="spacingAndGlyphs" class="sf">Sr</text>
<text x="315.45" y="48.90" font-size="16.90" textLength="20.14" lengthAdjust="spacingAndGlyphs" class="sf">Pb</text>
<text x="307.22" y="109.10" font-size="20.60" textLength="13.91" lengthAdjust="spacingAndGlyphs" class="sf">C</text>
<text x="320.91" y="113.60" font-size="15.00" textLength="14.41" lengthAdjust="spacingAndGlyphs" class="sf">2y</text>
<text x="202.10" y="157.90" font-size="16.90" textLength="109.60" lengthAdjust="spacingAndGlyphs" class="sf">Cleavage plane</text>
<text x="22.75" y="126.10" font-size="15.50" textLength="8.81" lengthAdjust="spacingAndGlyphs" class="sf">c</text>
<text x="44.94" y="141.00" font-size="16.20" textLength="9.15" lengthAdjust="spacingAndGlyphs" class="sf">b</text>
<text x="0.65" y="148.40" font-size="16.00" textLength="8.55" lengthAdjust="spacingAndGlyphs" class="sf">a</text>
<text x="305.14" y="282.80" font-size="20.50" textLength="13.68" lengthAdjust="spacingAndGlyphs" class="sf">C</text>
<text x="318.60" y="287.70" font-size="15.50" textLength="14.73" lengthAdjust="spacingAndGlyphs" class="sf">2y</text>
<text x="448.19" y="91.50" font-size="18.40" textLength="11.71" lengthAdjust="spacingAndGlyphs" class="sf">Z</text>
<text x="416.77" y="143.50" font-size="18.40" textLength="11.77" lengthAdjust="spacingAndGlyphs" class="sf">A</text>
<text x="447.38" y="137.60" font-size="18.40" textLength="13.38" lengthAdjust="spacingAndGlyphs" class="sf">R</text>
<text x="478.77" y="130.80" font-size="18.60" textLength="11.77" lengthAdjust="spacingAndGlyphs" class="sf">A</text>
<text x="491.43" y="136.90" font-size="10.60" textLength="4.13" lengthAdjust="spacingAndGlyphs" class="sf">1</text>
<text x="515.56" y="101.50" font-size="18.60" textLength="11.88" lengthAdjust="spacingAndGlyphs" class="sf">T</text>
<text x="467.72" y="174.60" font-size="18.90" textLength="11.74" lengthAdjust="spacingAndGlyphs" class="ser">Γ</text>
<text x="510.01" y="181.70" font-size="18.40" textLength="11.88" lengthAdjust="spacingAndGlyphs" class="sf">Y</text>
<text x="404.01" y="217.70" font-size="18.00" textLength="11.66" lengthAdjust="spacingAndGlyphs" class="sf">X</text>
<text x="440.80" y="214.50" font-size="18.00" textLength="11.82" lengthAdjust="spacingAndGlyphs" class="sf">S</text>
<text x="475.48" y="210.40" font-size="17.80" textLength="12.52" lengthAdjust="spacingAndGlyphs" class="sf">X</text>
<text x="487.59" y="217.20" font-size="11.00" textLength="5.16" lengthAdjust="spacingAndGlyphs" class="sf">1</text>
<text x="549.77" y="205.30" font-size="20.40" textLength="10.60" lengthAdjust="spacingAndGlyphs" class="sf">k</text>
<text x="560.65" y="212.60" font-size="13.80" textLength="6.59" lengthAdjust="spacingAndGlyphs" class="sf">x</text>
<text x="584.88" y="94.80" font-size="20.80" textLength="9.79" lengthAdjust="spacingAndGlyphs" class="sf">k</text>
<text x="594.49" y="101.40" font-size="12.50" textLength="7.57" lengthAdjust="spacingAndGlyphs" class="sf">z</text>
<text x="645.12" y="85.40" font-size="19.60" textLength="13.86" lengthAdjust="spacingAndGlyphs" class="sf">U</text>
<line x1="647.0" y1="68.8" x2="657.1" y2="68.8" stroke="#111" stroke-width="1.3"/>
<text x="607.27" y="141.60" font-size="18.60" textLength="12.04" lengthAdjust="spacingAndGlyphs" class="sf">Z</text>
<line x1="608.8" y1="125.6" x2="618.1" y2="125.6" stroke="#111" stroke-width="1.3"/>
<text x="645.29" y="152.70" font-size="19.00" textLength="12.30" lengthAdjust="spacingAndGlyphs" class="sf">X</text>
<line x1="646.7" y1="136.9" x2="655.4" y2="136.9" stroke="#111" stroke-width="1.3"/>
<text x="605.56" y="195.30" font-size="19.70" textLength="10.84" lengthAdjust="spacingAndGlyphs" class="ser">Γ</text>
<line x1="606.4" y1="179.6" x2="615.8" y2="179.6" stroke="#111" stroke-width="1.3"/>
<text x="579.82" y="51.70" font-size="18.80" textLength="44.57" lengthAdjust="spacingAndGlyphs" class="sf">(010)</text>
<text x="650.75" y="216.90" font-size="19.60" textLength="13.57" lengthAdjust="spacingAndGlyphs" class="sf">C</text>
<text x="664.06" y="222.90" font-size="11.50" textLength="11.36" lengthAdjust="spacingAndGlyphs" class="sf">2y</text>
<text x="44.93" y="403.50" font-size="21.80" textLength="31.11" lengthAdjust="spacingAndGlyphs" class="sf">0.5</text>
<text x="44.93" y="462.10" font-size="21.80" textLength="31.04" lengthAdjust="spacingAndGlyphs" class="sf">0.0</text>
<text x="37.20" y="520.20" font-size="21.80" textLength="38.85" lengthAdjust="spacingAndGlyphs" class="sf">-0.5</text>
<text x="37.20" y="580.40" font-size="21.80" textLength="38.78" lengthAdjust="spacingAndGlyphs" class="sf">-1.0</text>
<text x="37.20" y="639.60" font-size="21.80" textLength="38.85" lengthAdjust="spacingAndGlyphs" class="sf">-1.5</text>
<text x="88.02" y="680.00" font-size="24.40" textLength="15.65" lengthAdjust="spacingAndGlyphs" class="ser">Γ</text>
<text x="172.21" y="679.70" font-size="23.10" textLength="35.25" lengthAdjust="spacingAndGlyphs" class="sf">X/X</text>
<text x="207.79" y="685.20" font-size="16.00" textLength="5.93" lengthAdjust="spacingAndGlyphs" class="sf">1</text>
<text x="251.31" y="679.70" font-size="23.10" textLength="14.88" lengthAdjust="spacingAndGlyphs" class="sf">Y</text>
<text x="321.83" y="680.00" font-size="24.40" textLength="15.43" lengthAdjust="spacingAndGlyphs" class="ser">Γ</text>
<text x="408.54" y="679.70" font-size="23.10" textLength="14.72" lengthAdjust="spacingAndGlyphs" class="sf">Z</text>
<text x="498.06" y="679.70" font-size="23.10" textLength="34.68" lengthAdjust="spacingAndGlyphs" class="sf">A/A</text>
<text x="533.59" y="685.20" font-size="16.00" textLength="5.93" lengthAdjust="spacingAndGlyphs" class="sf">1</text>
<text x="576.55" y="679.70" font-size="23.10" textLength="12.32" lengthAdjust="spacingAndGlyphs" class="sf">T</text>
<text x="664.82" y="679.70" font-size="23.10" textLength="14.56" lengthAdjust="spacingAndGlyphs" class="sf">Y</text>
<g transform="translate(17.1,552.2) rotate(-90)"><text x="-0.67" y="0.00" font-size="22.90" textLength="36.47" lengthAdjust="spacingAndGlyphs" class="sf" font-style="italic">E-E</text><text x="35.14" y="5.30" font-size="16.50" textLength="9.37" lengthAdjust="spacingAndGlyphs" class="sf">F</text><text x="51.38" y="0.00" font-size="22.00" textLength="40.24" lengthAdjust="spacingAndGlyphs" class="sf">(eV)</text></g>
</svg>
</body></html>
